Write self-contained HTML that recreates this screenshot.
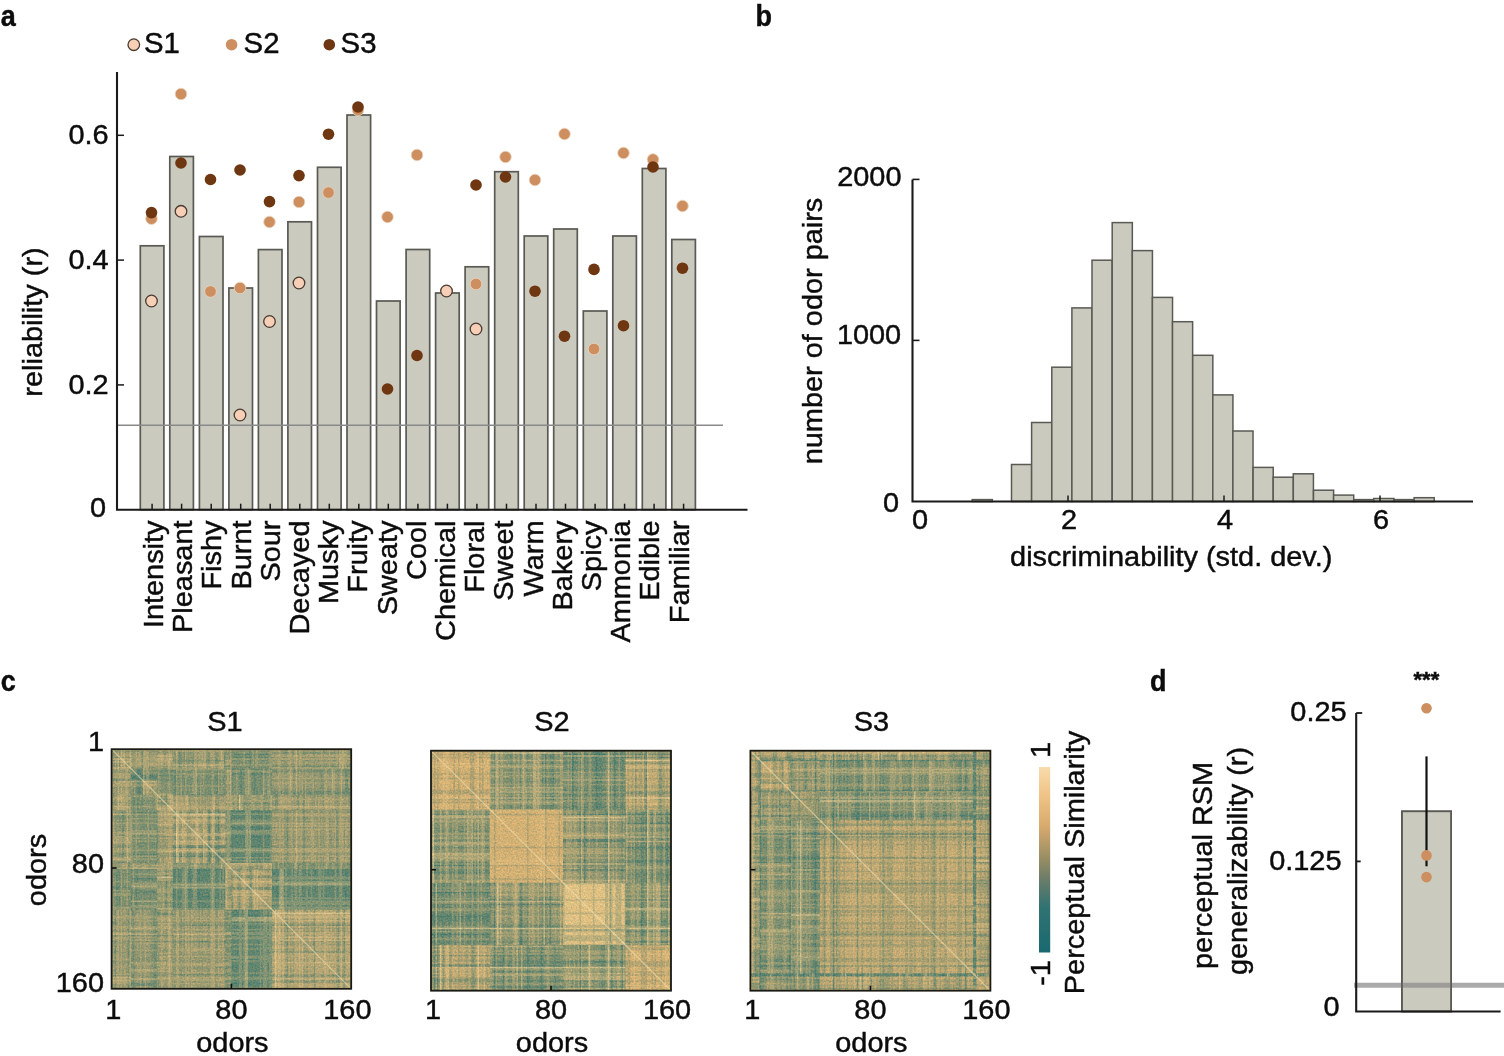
<!DOCTYPE html>
<html><head><meta charset="utf-8"><title>Figure</title>
<style>html,body{margin:0;padding:0;background:#fff;overflow:hidden}svg{display:block}text{font-family:"Liberation Sans",sans-serif;fill:#0c0c0c;stroke:#0c0c0c;stroke-width:0.45px}</style>
</head><body>
<svg width="1504" height="1056" viewBox="0 0 1504 1056">
<rect width="1504" height="1056" fill="#fff"/>
<text transform="translate(0.8 25.8) scale(0.9 1)" font-size="30" font-weight="bold">a</text>
<text transform="translate(755.6 25.8) scale(0.9 1)" font-size="30" font-weight="bold">b</text>
<text transform="translate(0.8 691) scale(0.9 1)" font-size="30" font-weight="bold">c</text>
<text transform="translate(1150 691) scale(0.9 1)" font-size="30" font-weight="bold">d</text>
<rect x="140.3" y="245.8" width="23.6" height="263.9" fill="#cbcabf" stroke="#5a5a54" stroke-width="1.7"/>
<rect x="169.8" y="156.5" width="23.6" height="353.2" fill="#cbcabf" stroke="#5a5a54" stroke-width="1.7"/>
<rect x="199.4" y="236.5" width="23.6" height="273.2" fill="#cbcabf" stroke="#5a5a54" stroke-width="1.7"/>
<rect x="228.9" y="288" width="23.6" height="221.7" fill="#cbcabf" stroke="#5a5a54" stroke-width="1.7"/>
<rect x="258.4" y="249.6" width="23.6" height="260.1" fill="#cbcabf" stroke="#5a5a54" stroke-width="1.7"/>
<rect x="287.9" y="221.8" width="23.6" height="287.9" fill="#cbcabf" stroke="#5a5a54" stroke-width="1.7"/>
<rect x="317.5" y="167.3" width="23.6" height="342.4" fill="#cbcabf" stroke="#5a5a54" stroke-width="1.7"/>
<rect x="347.0" y="115" width="23.6" height="394.7" fill="#cbcabf" stroke="#5a5a54" stroke-width="1.7"/>
<rect x="376.5" y="301" width="23.6" height="208.7" fill="#cbcabf" stroke="#5a5a54" stroke-width="1.7"/>
<rect x="406.1" y="249.5" width="23.6" height="260.2" fill="#cbcabf" stroke="#5a5a54" stroke-width="1.7"/>
<rect x="435.6" y="293" width="23.6" height="216.7" fill="#cbcabf" stroke="#5a5a54" stroke-width="1.7"/>
<rect x="465.1" y="266.8" width="23.6" height="242.9" fill="#cbcabf" stroke="#5a5a54" stroke-width="1.7"/>
<rect x="494.7" y="171.7" width="23.6" height="338.0" fill="#cbcabf" stroke="#5a5a54" stroke-width="1.7"/>
<rect x="524.2" y="236" width="23.6" height="273.7" fill="#cbcabf" stroke="#5a5a54" stroke-width="1.7"/>
<rect x="553.7" y="229" width="23.6" height="280.7" fill="#cbcabf" stroke="#5a5a54" stroke-width="1.7"/>
<rect x="583.3" y="311" width="23.6" height="198.7" fill="#cbcabf" stroke="#5a5a54" stroke-width="1.7"/>
<rect x="612.8" y="236" width="23.6" height="273.7" fill="#cbcabf" stroke="#5a5a54" stroke-width="1.7"/>
<rect x="642.3" y="168.5" width="23.6" height="341.2" fill="#cbcabf" stroke="#5a5a54" stroke-width="1.7"/>
<rect x="671.8" y="239.5" width="23.6" height="270.2" fill="#cbcabf" stroke="#5a5a54" stroke-width="1.7"/>
<line x1="117" y1="425.2" x2="723" y2="425.2" stroke="#8a8a8a" stroke-width="1.6"/>
<circle cx="151.5" cy="218.7" r="5.8" fill="#cd8f5f" stroke="#ecd3bd" stroke-width="0.8"/>
<circle cx="181.0" cy="94" r="5.8" fill="#cd8f5f" stroke="#ecd3bd" stroke-width="0.8"/>
<circle cx="210.5" cy="291.5" r="5.8" fill="#cd8f5f" stroke="#ecd3bd" stroke-width="0.8"/>
<circle cx="240.0" cy="288" r="5.8" fill="#cd8f5f" stroke="#ecd3bd" stroke-width="0.8"/>
<circle cx="269.5" cy="222" r="5.8" fill="#cd8f5f" stroke="#ecd3bd" stroke-width="0.8"/>
<circle cx="299.0" cy="202" r="5.8" fill="#cd8f5f" stroke="#ecd3bd" stroke-width="0.8"/>
<circle cx="328.5" cy="192.6" r="5.8" fill="#cd8f5f" stroke="#ecd3bd" stroke-width="0.8"/>
<circle cx="358.0" cy="110" r="5.8" fill="#cd8f5f" stroke="#ecd3bd" stroke-width="0.8"/>
<circle cx="387.5" cy="217" r="5.8" fill="#cd8f5f" stroke="#ecd3bd" stroke-width="0.8"/>
<circle cx="417.0" cy="155" r="5.8" fill="#cd8f5f" stroke="#ecd3bd" stroke-width="0.8"/>
<circle cx="476.0" cy="284" r="5.8" fill="#cd8f5f" stroke="#ecd3bd" stroke-width="0.8"/>
<circle cx="505.5" cy="157" r="5.8" fill="#cd8f5f" stroke="#ecd3bd" stroke-width="0.8"/>
<circle cx="535.0" cy="180" r="5.8" fill="#cd8f5f" stroke="#ecd3bd" stroke-width="0.8"/>
<circle cx="564.5" cy="134" r="5.8" fill="#cd8f5f" stroke="#ecd3bd" stroke-width="0.8"/>
<circle cx="594.0" cy="349" r="5.8" fill="#cd8f5f" stroke="#ecd3bd" stroke-width="0.8"/>
<circle cx="623.5" cy="153" r="5.8" fill="#cd8f5f" stroke="#ecd3bd" stroke-width="0.8"/>
<circle cx="653.0" cy="159.5" r="5.8" fill="#cd8f5f" stroke="#ecd3bd" stroke-width="0.8"/>
<circle cx="682.5" cy="206" r="5.8" fill="#cd8f5f" stroke="#ecd3bd" stroke-width="0.8"/>
<circle cx="151.5" cy="212.6" r="5.8" fill="#6e3611"/>
<circle cx="181.0" cy="163" r="5.8" fill="#6e3611"/>
<circle cx="210.5" cy="179.5" r="5.8" fill="#6e3611"/>
<circle cx="240.0" cy="170" r="5.8" fill="#6e3611"/>
<circle cx="269.5" cy="201.6" r="5.8" fill="#6e3611"/>
<circle cx="299.0" cy="175.6" r="5.8" fill="#6e3611"/>
<circle cx="328.5" cy="134.2" r="5.8" fill="#6e3611"/>
<circle cx="358.0" cy="107" r="5.8" fill="#6e3611"/>
<circle cx="387.5" cy="389" r="5.8" fill="#6e3611"/>
<circle cx="417.0" cy="355.5" r="5.8" fill="#6e3611"/>
<circle cx="476.0" cy="185" r="5.8" fill="#6e3611"/>
<circle cx="505.5" cy="177" r="5.8" fill="#6e3611"/>
<circle cx="535.0" cy="291.2" r="5.8" fill="#6e3611"/>
<circle cx="564.5" cy="336.2" r="5.8" fill="#6e3611"/>
<circle cx="594.0" cy="269.4" r="5.8" fill="#6e3611"/>
<circle cx="623.5" cy="325.7" r="5.8" fill="#6e3611"/>
<circle cx="653.0" cy="167" r="5.8" fill="#6e3611"/>
<circle cx="682.5" cy="268.2" r="5.8" fill="#6e3611"/>
<circle cx="151.5" cy="301" r="5.8" fill="#f6cfb6" stroke="#4a3a30" stroke-width="1.3"/>
<circle cx="181.0" cy="211.3" r="5.8" fill="#f6cfb6" stroke="#4a3a30" stroke-width="1.3"/>
<circle cx="240.0" cy="415" r="5.8" fill="#f6cfb6" stroke="#4a3a30" stroke-width="1.3"/>
<circle cx="269.5" cy="321.5" r="5.8" fill="#f6cfb6" stroke="#4a3a30" stroke-width="1.3"/>
<circle cx="299.0" cy="283" r="5.8" fill="#f6cfb6" stroke="#4a3a30" stroke-width="1.3"/>
<circle cx="446.5" cy="291" r="5.8" fill="#f6cfb6" stroke="#4a3a30" stroke-width="1.3"/>
<circle cx="476.0" cy="329" r="5.8" fill="#f6cfb6" stroke="#4a3a30" stroke-width="1.3"/>
<path d="M117 72V509.7H747.5" fill="none" stroke="#1a1a1a" stroke-width="2.1"/>
<text transform="translate(106.2 516.9) scale(1.025 1)" font-size="28.2" text-anchor="end">0</text>
<line x1="117" y1="384.9" x2="124" y2="384.9" stroke="#1a1a1a" stroke-width="1.5"/>
<text transform="translate(108.6 393.7) scale(1.025 1)" font-size="28.2" text-anchor="end">0.2</text>
<line x1="117" y1="260.1" x2="124" y2="260.1" stroke="#1a1a1a" stroke-width="1.5"/>
<text transform="translate(108.6 268.9) scale(1.025 1)" font-size="28.2" text-anchor="end">0.4</text>
<line x1="117" y1="135.3" x2="124" y2="135.3" stroke="#1a1a1a" stroke-width="1.5"/>
<text transform="translate(108.6 144.1) scale(1.025 1)" font-size="28.2" text-anchor="end">0.6</text>
<line x1="152.1" y1="509.7" x2="152.1" y2="503.7" stroke="#1a1a1a" stroke-width="1.5"/>
<text transform="translate(162.9 520.5) rotate(-90) scale(1.025 1)" font-size="28.2" text-anchor="end">Intensity</text>
<line x1="181.6" y1="509.7" x2="181.6" y2="503.7" stroke="#1a1a1a" stroke-width="1.5"/>
<text transform="translate(192.1 520.5) rotate(-90) scale(1.025 1)" font-size="28.2" text-anchor="end">Pleasant</text>
<line x1="211.2" y1="509.7" x2="211.2" y2="503.7" stroke="#1a1a1a" stroke-width="1.5"/>
<text transform="translate(221.3 520.5) rotate(-90) scale(1.025 1)" font-size="28.2" text-anchor="end">Fishy</text>
<line x1="240.7" y1="509.7" x2="240.7" y2="503.7" stroke="#1a1a1a" stroke-width="1.5"/>
<text transform="translate(250.5 520.5) rotate(-90) scale(1.025 1)" font-size="28.2" text-anchor="end">Burnt</text>
<line x1="270.2" y1="509.7" x2="270.2" y2="503.7" stroke="#1a1a1a" stroke-width="1.5"/>
<text transform="translate(279.7 520.5) rotate(-90) scale(1.025 1)" font-size="28.2" text-anchor="end">Sour</text>
<line x1="299.8" y1="509.7" x2="299.8" y2="503.7" stroke="#1a1a1a" stroke-width="1.5"/>
<text transform="translate(308.9 520.5) rotate(-90) scale(1.025 1)" font-size="28.2" text-anchor="end">Decayed</text>
<line x1="329.3" y1="509.7" x2="329.3" y2="503.7" stroke="#1a1a1a" stroke-width="1.5"/>
<text transform="translate(338.1 520.5) rotate(-90) scale(1.025 1)" font-size="28.2" text-anchor="end">Musky</text>
<line x1="358.8" y1="509.7" x2="358.8" y2="503.7" stroke="#1a1a1a" stroke-width="1.5"/>
<text transform="translate(367.3 520.5) rotate(-90) scale(1.025 1)" font-size="28.2" text-anchor="end">Fruity</text>
<line x1="388.3" y1="509.7" x2="388.3" y2="503.7" stroke="#1a1a1a" stroke-width="1.5"/>
<text transform="translate(396.5 520.5) rotate(-90) scale(1.025 1)" font-size="28.2" text-anchor="end">Sweaty</text>
<line x1="417.9" y1="509.7" x2="417.9" y2="503.7" stroke="#1a1a1a" stroke-width="1.5"/>
<text transform="translate(425.7 520.5) rotate(-90) scale(1.025 1)" font-size="28.2" text-anchor="end">Cool</text>
<line x1="447.4" y1="509.7" x2="447.4" y2="503.7" stroke="#1a1a1a" stroke-width="1.5"/>
<text transform="translate(454.9 520.5) rotate(-90) scale(1.025 1)" font-size="28.2" text-anchor="end">Chemical</text>
<line x1="476.9" y1="509.7" x2="476.9" y2="503.7" stroke="#1a1a1a" stroke-width="1.5"/>
<text transform="translate(484.1 520.5) rotate(-90) scale(1.025 1)" font-size="28.2" text-anchor="end">Floral</text>
<line x1="506.5" y1="509.7" x2="506.5" y2="503.7" stroke="#1a1a1a" stroke-width="1.5"/>
<text transform="translate(513.3 520.5) rotate(-90) scale(1.025 1)" font-size="28.2" text-anchor="end">Sweet</text>
<line x1="536.0" y1="509.7" x2="536.0" y2="503.7" stroke="#1a1a1a" stroke-width="1.5"/>
<text transform="translate(542.5 520.5) rotate(-90) scale(1.025 1)" font-size="28.2" text-anchor="end">Warm</text>
<line x1="565.5" y1="509.7" x2="565.5" y2="503.7" stroke="#1a1a1a" stroke-width="1.5"/>
<text transform="translate(571.7 520.5) rotate(-90) scale(1.025 1)" font-size="28.2" text-anchor="end">Bakery</text>
<line x1="595.1" y1="509.7" x2="595.1" y2="503.7" stroke="#1a1a1a" stroke-width="1.5"/>
<text transform="translate(600.9 520.5) rotate(-90) scale(1.025 1)" font-size="28.2" text-anchor="end">Spicy</text>
<line x1="624.6" y1="509.7" x2="624.6" y2="503.7" stroke="#1a1a1a" stroke-width="1.5"/>
<text transform="translate(630.1 520.5) rotate(-90) scale(1.025 1)" font-size="28.2" text-anchor="end">Ammonia</text>
<line x1="654.1" y1="509.7" x2="654.1" y2="503.7" stroke="#1a1a1a" stroke-width="1.5"/>
<text transform="translate(659.3 520.5) rotate(-90) scale(1.025 1)" font-size="28.2" text-anchor="end">Edible</text>
<line x1="683.6" y1="509.7" x2="683.6" y2="503.7" stroke="#1a1a1a" stroke-width="1.5"/>
<text transform="translate(688.5 520.5) rotate(-90) scale(1.025 1)" font-size="28.2" text-anchor="end">Familiar</text>
<text transform="translate(42.4 322) rotate(-90) scale(1.025 1)" font-size="28.2" text-anchor="middle">reliability (r)</text>
<circle cx="133.8" cy="44.7" r="5.8" fill="#f6cfb6" stroke="#4a3a30" stroke-width="1.3"/>
<text transform="translate(144.0 52.5) scale(1.025 1)" font-size="28.6">S1</text>
<circle cx="231.6" cy="44.7" r="5.8" fill="#cd8f5f"/>
<text transform="translate(243.6 52.5) scale(1.025 1)" font-size="28.6">S2</text>
<circle cx="329.3" cy="44.7" r="5.8" fill="#6e3611"/>
<text transform="translate(340.6 52.5) scale(1.025 1)" font-size="28.6">S3</text>
<rect x="972.2" y="499.6" width="20.13" height="1.9" fill="#cbcabf" stroke="#5a5a54" stroke-width="1.5"/>
<rect x="1011.5" y="464.5" width="20.13" height="37.0" fill="#cbcabf" stroke="#5a5a54" stroke-width="1.5"/>
<rect x="1031.6" y="422.5" width="20.13" height="79.0" fill="#cbcabf" stroke="#5a5a54" stroke-width="1.5"/>
<rect x="1051.8" y="367.2" width="20.13" height="134.3" fill="#cbcabf" stroke="#5a5a54" stroke-width="1.5"/>
<rect x="1071.9" y="307.9" width="20.13" height="193.6" fill="#cbcabf" stroke="#5a5a54" stroke-width="1.5"/>
<rect x="1092.0" y="260.2" width="20.13" height="241.3" fill="#cbcabf" stroke="#5a5a54" stroke-width="1.5"/>
<rect x="1112.2" y="222.6" width="20.13" height="278.9" fill="#cbcabf" stroke="#5a5a54" stroke-width="1.5"/>
<rect x="1132.3" y="250.6" width="20.13" height="250.9" fill="#cbcabf" stroke="#5a5a54" stroke-width="1.5"/>
<rect x="1152.4" y="297.4" width="20.13" height="204.1" fill="#cbcabf" stroke="#5a5a54" stroke-width="1.5"/>
<rect x="1172.5" y="321.7" width="20.13" height="179.8" fill="#cbcabf" stroke="#5a5a54" stroke-width="1.5"/>
<rect x="1192.7" y="355.3" width="20.13" height="146.2" fill="#cbcabf" stroke="#5a5a54" stroke-width="1.5"/>
<rect x="1212.8" y="394.9" width="20.13" height="106.6" fill="#cbcabf" stroke="#5a5a54" stroke-width="1.5"/>
<rect x="1232.9" y="431" width="20.13" height="70.5" fill="#cbcabf" stroke="#5a5a54" stroke-width="1.5"/>
<rect x="1253.1" y="467.4" width="20.13" height="34.1" fill="#cbcabf" stroke="#5a5a54" stroke-width="1.5"/>
<rect x="1273.2" y="477.2" width="20.13" height="24.3" fill="#cbcabf" stroke="#5a5a54" stroke-width="1.5"/>
<rect x="1293.3" y="473.8" width="20.13" height="27.7" fill="#cbcabf" stroke="#5a5a54" stroke-width="1.5"/>
<rect x="1313.5" y="490.2" width="20.13" height="11.3" fill="#cbcabf" stroke="#5a5a54" stroke-width="1.5"/>
<rect x="1333.6" y="495.1" width="20.13" height="6.4" fill="#cbcabf" stroke="#5a5a54" stroke-width="1.5"/>
<rect x="1353.7" y="499.6" width="20.13" height="1.9" fill="#cbcabf" stroke="#5a5a54" stroke-width="1.5"/>
<rect x="1373.8" y="498.5" width="20.13" height="3.0" fill="#cbcabf" stroke="#5a5a54" stroke-width="1.5"/>
<rect x="1394.0" y="499.6" width="20.13" height="1.9" fill="#cbcabf" stroke="#5a5a54" stroke-width="1.5"/>
<rect x="1414.1" y="497.7" width="20.13" height="3.8" fill="#cbcabf" stroke="#5a5a54" stroke-width="1.5"/>
<path d="M912.5 179.4V501.5H1473" fill="none" stroke="#1a1a1a" stroke-width="2.1"/>
<text transform="translate(899 511.5) scale(1.025 1)" font-size="28.2" text-anchor="end">0</text>
<line x1="912.5" y1="340.4" x2="919.5" y2="340.4" stroke="#1a1a1a" stroke-width="1.6"/>
<text transform="translate(901.2 343.5) scale(1.025 1)" font-size="28.2" text-anchor="end">1000</text>
<line x1="912.5" y1="179.4" x2="919.5" y2="179.4" stroke="#1a1a1a" stroke-width="1.6"/>
<text transform="translate(901.5 186) scale(1.025 1)" font-size="28.2" text-anchor="end">2000</text>
<text transform="translate(920 529.4) scale(1.025 1)" font-size="28.2" text-anchor="middle">0</text>
<line x1="1068" y1="501.5" x2="1068" y2="495.5" stroke="#1a1a1a" stroke-width="1.5"/>
<text transform="translate(1069 529.4) scale(1.025 1)" font-size="28.2" text-anchor="middle">2</text>
<line x1="1224" y1="501.5" x2="1224" y2="495.5" stroke="#1a1a1a" stroke-width="1.5"/>
<text transform="translate(1225 529.4) scale(1.025 1)" font-size="28.2" text-anchor="middle">4</text>
<line x1="1380" y1="501.5" x2="1380" y2="495.5" stroke="#1a1a1a" stroke-width="1.5"/>
<text transform="translate(1381 529.4) scale(1.025 1)" font-size="28.2" text-anchor="middle">6</text>
<text transform="translate(1171.2 566.4) scale(1.025 1)" font-size="28.2" text-anchor="middle">discriminability (std. dev.)</text>
<text transform="translate(822.4 331) rotate(-90) scale(1.025 1)" font-size="28.2" text-anchor="middle">number of odor pairs</text>
<g transform="translate(111.6 749.2)">
<clipPath id="hc1"><rect x="0" y="0" width="239.6" height="239.6"/></clipPath>
<defs><filter id="hn1" x="0" y="0" width="100%" height="100%" color-interpolation-filters="sRGB"><feTurbulence type="fractalNoise" baseFrequency="0.62" numOctaves="2" seed="14" result="n"/><feColorMatrix in="n" type="matrix" values="0.42 0 0 0 0.290 0.16 0 0 0 0.420 0.0 0 0 0 0.500 0 0 0 0 1" result="n2"/><feComposite in="SourceGraphic" in2="n2" operator="arithmetic" k1="0" k2="1" k3="1" k4="-0.5" result="c"/><feGaussianBlur in="c" stdDeviation="0.38"/></filter></defs>
<g clip-path="url(#hc1)"><g filter="url(#hn1)">
<rect x="-2" y="-2" width="243.6" height="243.6" fill="#909872"/>
<rect x="0.0" y="0.0" width="19.5" height="19.5" fill="#ada273"/>
<rect x="19.2" y="0.0" width="26.7" height="19.5" fill="#a09d73"/>
<rect x="45.5" y="0.0" width="15.9" height="19.5" fill="#a09d73"/>
<rect x="61.1" y="0.0" width="53.0" height="19.5" fill="#979a73"/>
<rect x="113.8" y="0.0" width="6.3" height="19.5" fill="#a09d73"/>
<rect x="119.8" y="0.0" width="41.0" height="19.5" fill="#849372"/>
<rect x="160.5" y="0.0" width="79.4" height="19.5" fill="#a09d73"/>
<rect x="0.0" y="19.2" width="19.5" height="26.7" fill="#a09d73"/>
<rect x="19.2" y="19.2" width="26.7" height="26.7" fill="#a8a073"/>
<rect x="45.5" y="19.2" width="15.9" height="26.7" fill="#8a9572"/>
<rect x="61.1" y="19.2" width="53.0" height="26.7" fill="#819272"/>
<rect x="113.8" y="19.2" width="6.3" height="26.7" fill="#939873"/>
<rect x="119.8" y="19.2" width="41.0" height="26.7" fill="#7c9072"/>
<rect x="160.5" y="19.2" width="79.4" height="26.7" fill="#969973"/>
<rect x="0.0" y="45.5" width="19.5" height="15.9" fill="#a09d73"/>
<rect x="19.2" y="45.5" width="26.7" height="15.9" fill="#8a9572"/>
<rect x="45.5" y="45.5" width="15.9" height="15.9" fill="#ada273"/>
<rect x="61.1" y="45.5" width="53.0" height="15.9" fill="#a8a073"/>
<rect x="113.8" y="45.5" width="6.3" height="15.9" fill="#a09d73"/>
<rect x="119.8" y="45.5" width="41.0" height="15.9" fill="#909872"/>
<rect x="160.5" y="45.5" width="79.4" height="15.9" fill="#a09d73"/>
<rect x="0.0" y="61.1" width="19.5" height="53.0" fill="#979a73"/>
<rect x="19.2" y="61.1" width="26.7" height="53.0" fill="#819272"/>
<rect x="45.5" y="61.1" width="15.9" height="53.0" fill="#a8a073"/>
<rect x="61.1" y="61.1" width="53.0" height="53.0" fill="#a8a073"/>
<rect x="113.8" y="61.1" width="6.3" height="53.0" fill="#778e72"/>
<rect x="119.8" y="61.1" width="41.0" height="53.0" fill="#5f8672"/>
<rect x="160.5" y="61.1" width="79.4" height="53.0" fill="#a09d73"/>
<rect x="0.0" y="113.8" width="19.5" height="6.3" fill="#a09d73"/>
<rect x="19.2" y="113.8" width="26.7" height="6.3" fill="#939873"/>
<rect x="45.5" y="113.8" width="15.9" height="6.3" fill="#a09d73"/>
<rect x="61.1" y="113.8" width="53.0" height="6.3" fill="#778e72"/>
<rect x="113.8" y="113.8" width="6.3" height="6.3" fill="#ada273"/>
<rect x="119.8" y="113.8" width="41.0" height="6.3" fill="#a09d73"/>
<rect x="160.5" y="113.8" width="79.4" height="6.3" fill="#819272"/>
<rect x="0.0" y="119.8" width="19.5" height="41.0" fill="#849372"/>
<rect x="19.2" y="119.8" width="26.7" height="41.0" fill="#7c9072"/>
<rect x="45.5" y="119.8" width="15.9" height="41.0" fill="#909872"/>
<rect x="61.1" y="119.8" width="53.0" height="41.0" fill="#5f8672"/>
<rect x="113.8" y="119.8" width="6.3" height="41.0" fill="#a09d73"/>
<rect x="119.8" y="119.8" width="41.0" height="41.0" fill="#a8a073"/>
<rect x="160.5" y="119.8" width="79.4" height="41.0" fill="#5f8672"/>
<rect x="0.0" y="160.5" width="19.5" height="79.4" fill="#a09d73"/>
<rect x="19.2" y="160.5" width="26.7" height="79.4" fill="#969973"/>
<rect x="45.5" y="160.5" width="15.9" height="79.4" fill="#a09d73"/>
<rect x="61.1" y="160.5" width="53.0" height="79.4" fill="#a09d73"/>
<rect x="113.8" y="160.5" width="6.3" height="79.4" fill="#819272"/>
<rect x="119.8" y="160.5" width="41.0" height="79.4" fill="#5f8672"/>
<rect x="160.5" y="160.5" width="79.4" height="79.4" fill="#a8a073"/>
<path d="M19.2 26.21H45.5M19.2 27.70H45.5M19.2 29.20H45.5M61.1 98.09H113.8M61.1 107.07H113.8M26.21 19.2V45.5M27.70 19.2V45.5M29.20 19.2V45.5M98.09 61.1V113.8M107.07 61.1V113.8" stroke="#347270" stroke-opacity="0.62" stroke-width="1.50" fill="none"/>
<path d="M0.0 2.25H19.2M160.5 3.74H239.6M119.8 5.24H160.5M0.0 8.24H19.2M119.8 8.24H160.5M61.1 11.23H113.8M113.8 17.22H119.8M160.5 17.22H239.6M119.8 20.22H160.5M19.2 21.71H45.5M45.5 21.71H61.1M160.5 21.71H239.6M19.2 24.71H45.5M119.8 24.71H160.5M45.5 26.21H61.1M0.0 30.70H19.2M19.2 30.70H45.5M45.5 30.70H61.1M160.5 42.68H239.6M160.5 44.18H239.6M61.1 45.67H113.8M45.5 50.17H61.1M45.5 54.66H61.1M119.8 54.66H160.5M119.8 62.15H160.5M19.2 63.64H45.5M61.1 63.64H113.8M0.0 68.14H19.2M119.8 78.62H160.5M119.8 87.60H160.5M61.1 96.59H113.8M61.1 104.08H113.8M19.2 105.57H45.5M61.1 105.57H113.8M0.0 113.06H19.2M61.1 120.55H113.8M119.8 120.55H160.5M119.8 128.04H160.5M19.2 129.53H45.5M0.0 138.52H19.2M113.8 138.52H119.8M119.8 138.52H160.5M119.8 140.02H160.5M19.2 143.01H45.5M61.1 147.50H113.8M119.8 160.98H160.5M45.5 163.98H61.1M45.5 165.47H61.1M119.8 165.47H160.5M61.1 175.96H113.8M160.5 175.96H239.6M45.5 186.44H61.1M45.5 192.43H61.1M61.1 192.43H113.8M160.5 202.91H239.6M61.1 225.37H113.8M160.5 226.87H239.6M160.5 232.86H239.6M19.2 234.36H45.5M119.8 234.36H160.5M19.2 235.86H45.5M2.25 0.0V19.2M3.74 160.5V239.6M5.24 119.8V160.5M8.24 0.0V19.2M8.24 119.8V160.5M11.23 61.1V113.8M17.22 113.8V119.8M17.22 160.5V239.6M20.22 119.8V160.5M21.71 19.2V45.5M21.71 45.5V61.1M21.71 160.5V239.6M24.71 19.2V45.5M24.71 119.8V160.5M26.21 45.5V61.1M30.70 0.0V19.2M30.70 19.2V45.5M30.70 45.5V61.1M42.68 160.5V239.6M44.18 160.5V239.6M45.67 61.1V113.8M50.17 45.5V61.1M54.66 45.5V61.1M54.66 119.8V160.5M62.15 119.8V160.5M63.64 19.2V45.5M63.64 61.1V113.8M68.14 0.0V19.2M78.62 119.8V160.5M87.60 119.8V160.5M96.59 61.1V113.8M104.08 61.1V113.8M105.57 19.2V45.5M105.57 61.1V113.8M113.06 0.0V19.2M120.55 61.1V113.8M120.55 119.8V160.5M128.04 119.8V160.5M129.53 19.2V45.5M138.52 0.0V19.2M138.52 113.8V119.8M138.52 119.8V160.5M140.02 119.8V160.5M143.01 19.2V45.5M147.50 61.1V113.8M160.98 119.8V160.5M163.98 45.5V61.1M165.47 45.5V61.1M165.47 119.8V160.5M175.96 61.1V113.8M175.96 160.5V239.6M186.44 45.5V61.1M192.43 45.5V61.1M192.43 61.1V113.8M202.91 160.5V239.6M225.37 61.1V113.8M226.87 160.5V239.6M232.86 160.5V239.6M234.36 19.2V45.5M234.36 119.8V160.5M235.86 19.2V45.5" stroke="#427a70" stroke-opacity="0.46" stroke-width="1.50" fill="none"/>
<path d="M19.2 2.25H45.5M45.5 2.25H61.1M45.5 3.74H61.1M61.1 3.74H113.8M113.8 3.74H119.8M0.0 5.24H19.2M19.2 5.24H45.5M113.8 5.24H119.8M119.8 6.74H160.5M61.1 8.24H113.8M113.8 8.24H119.8M160.5 8.24H239.6M119.8 11.23H160.5M160.5 11.23H239.6M61.1 12.73H113.8M0.0 14.23H19.2M119.8 14.23H160.5M160.5 15.72H239.6M0.0 17.22H19.2M45.5 17.22H61.1M119.8 17.22H160.5M19.2 18.72H45.5M119.8 18.72H160.5M19.2 20.22H45.5M113.8 20.22H119.8M160.5 20.22H239.6M0.0 21.71H19.2M61.1 21.71H113.8M0.0 23.21H19.2M19.2 23.21H45.5M45.5 23.21H61.1M61.1 23.21H113.8M160.5 23.21H239.6M119.8 26.21H160.5M45.5 27.70H61.1M61.1 29.20H113.8M61.1 30.70H113.8M160.5 30.70H239.6M61.1 32.20H113.8M61.1 35.19H113.8M0.0 38.19H19.2M61.1 38.19H113.8M113.8 38.19H119.8M119.8 38.19H160.5M160.5 39.68H239.6M19.2 41.18H45.5M45.5 41.18H61.1M160.5 41.18H239.6M45.5 42.68H61.1M61.1 42.68H113.8M19.2 44.18H45.5M160.5 45.67H239.6M61.1 47.17H113.8M160.5 47.17H239.6M19.2 51.66H45.5M61.1 51.66H113.8M0.0 53.16H19.2M45.5 53.16H61.1M19.2 54.66H45.5M113.8 54.66H119.8M160.5 54.66H239.6M19.2 60.65H45.5M160.5 60.65H239.6M61.1 62.15H113.8M160.5 62.15H239.6M0.0 63.64H19.2M119.8 63.64H160.5M160.5 63.64H239.6M0.0 66.64H19.2M119.8 66.64H160.5M61.1 68.14H113.8M119.8 68.14H160.5M160.5 68.14H239.6M0.0 69.63H19.2M119.8 69.63H160.5M160.5 69.63H239.6M19.2 71.13H45.5M0.0 72.63H19.2M160.5 72.63H239.6M61.1 75.62H113.8M0.0 77.12H19.2M61.1 77.12H113.8M119.8 77.12H160.5M45.5 78.62H61.1M61.1 78.62H113.8M113.8 78.62H119.8M160.5 78.62H239.6M0.0 81.61H19.2M19.2 87.60H45.5M45.5 87.60H61.1M160.5 87.60H239.6M119.8 89.10H160.5M45.5 90.60H61.1M61.1 90.60H113.8M113.8 90.60H119.8M119.8 90.60H160.5M160.5 90.60H239.6M19.2 93.59H45.5M45.5 93.59H61.1M19.2 95.09H45.5M113.8 95.09H119.8M119.8 95.09H160.5M0.0 96.59H19.2M19.2 96.59H45.5M45.5 96.59H61.1M113.8 96.59H119.8M119.8 96.59H160.5M160.5 96.59H239.6M0.0 98.09H19.2M19.2 98.09H45.5M45.5 98.09H61.1M113.8 98.09H119.8M119.8 98.09H160.5M160.5 98.09H239.6M0.0 104.08H19.2M19.2 104.08H45.5M45.5 104.08H61.1M113.8 104.08H119.8M119.8 104.08H160.5M160.5 104.08H239.6M0.0 105.57H19.2M45.5 105.57H61.1M119.8 105.57H160.5M160.5 105.57H239.6M45.5 107.07H61.1M113.8 107.07H119.8M61.1 108.57H113.8M19.2 113.06H45.5M119.8 113.06H160.5M160.5 113.06H239.6M0.0 114.56H19.2M19.2 114.56H45.5M160.5 114.56H239.6M160.5 116.06H239.6M0.0 117.55H19.2M19.2 120.55H45.5M160.5 120.55H239.6M0.0 125.04H19.2M0.0 126.54H19.2M45.5 126.54H61.1M61.1 126.54H113.8M119.8 126.54H160.5M113.8 129.53H119.8M19.2 131.03H45.5M45.5 132.53H61.1M160.5 138.52H239.6M113.8 140.02H119.8M160.5 140.02H239.6M19.2 141.51H45.5M113.8 141.51H119.8M160.5 141.51H239.6M0.0 143.01H19.2M61.1 143.01H113.8M160.5 143.01H239.6M19.2 144.51H45.5M113.8 144.51H119.8M113.8 146.01H119.8M19.2 149.00H45.5M61.1 149.00H113.8M113.8 149.00H119.8M19.2 150.50H45.5M61.1 150.50H113.8M113.8 150.50H119.8M45.5 153.49H61.1M61.1 153.49H113.8M0.0 156.49H19.2M61.1 156.49H113.8M119.8 156.49H160.5M61.1 157.99H113.8M45.5 160.98H61.1M113.8 160.98H119.8M119.8 162.48H160.5M119.8 163.98H160.5M0.0 172.96H19.2M61.1 172.96H113.8M119.8 172.96H160.5M0.0 174.46H19.2M61.1 174.46H113.8M160.5 174.46H239.6M113.8 175.96H119.8M119.8 177.45H160.5M113.8 178.95H119.8M160.5 178.95H239.6M0.0 181.95H19.2M19.2 181.95H45.5M61.1 181.95H113.8M113.8 181.95H119.8M160.5 181.95H239.6M0.0 186.44H19.2M19.2 186.44H45.5M113.8 186.44H119.8M113.8 190.93H119.8M0.0 192.43H19.2M19.2 192.43H45.5M160.5 192.43H239.6M119.8 193.93H160.5M160.5 195.42H239.6M113.8 198.42H119.8M45.5 201.41H61.1M0.0 202.91H19.2M19.2 202.91H45.5M45.5 202.91H61.1M113.8 202.91H119.8M119.8 202.91H160.5M45.5 205.91H61.1M61.1 205.91H113.8M19.2 208.90H45.5M61.1 208.90H113.8M19.2 210.40H45.5M0.0 211.90H19.2M19.2 211.90H45.5M45.5 211.90H61.1M61.1 211.90H113.8M119.8 214.89H160.5M61.1 217.89H113.8M113.8 217.89H119.8M61.1 219.38H113.8M119.8 219.38H160.5M119.8 222.38H160.5M45.5 223.88H61.1M45.5 225.37H61.1M160.5 225.37H239.6M0.0 226.87H19.2M19.2 226.87H45.5M45.5 226.87H61.1M61.1 226.87H113.8M113.8 226.87H119.8M119.8 226.87H160.5M160.5 231.36H239.6M61.1 232.86H113.8M45.5 237.35H61.1M0.0 238.85H19.2M19.2 238.85H45.5M45.5 238.85H61.1M61.1 238.85H113.8M2.25 19.2V45.5M2.25 45.5V61.1M3.74 45.5V61.1M3.74 61.1V113.8M3.74 113.8V119.8M5.24 0.0V19.2M5.24 19.2V45.5M5.24 113.8V119.8M6.74 119.8V160.5M8.24 61.1V113.8M8.24 113.8V119.8M8.24 160.5V239.6M11.23 119.8V160.5M11.23 160.5V239.6M12.73 61.1V113.8M14.23 0.0V19.2M14.23 119.8V160.5M15.72 160.5V239.6M17.22 0.0V19.2M17.22 45.5V61.1M17.22 119.8V160.5M18.72 19.2V45.5M18.72 119.8V160.5M20.22 19.2V45.5M20.22 113.8V119.8M20.22 160.5V239.6M21.71 0.0V19.2M21.71 61.1V113.8M23.21 0.0V19.2M23.21 19.2V45.5M23.21 45.5V61.1M23.21 61.1V113.8M23.21 160.5V239.6M26.21 119.8V160.5M27.70 45.5V61.1M29.20 61.1V113.8M30.70 61.1V113.8M30.70 160.5V239.6M32.20 61.1V113.8M35.19 61.1V113.8M38.19 0.0V19.2M38.19 61.1V113.8M38.19 113.8V119.8M38.19 119.8V160.5M39.68 160.5V239.6M41.18 19.2V45.5M41.18 45.5V61.1M41.18 160.5V239.6M42.68 45.5V61.1M42.68 61.1V113.8M44.18 19.2V45.5M45.67 160.5V239.6M47.17 61.1V113.8M47.17 160.5V239.6M51.66 19.2V45.5M51.66 61.1V113.8M53.16 0.0V19.2M53.16 45.5V61.1M54.66 19.2V45.5M54.66 113.8V119.8M54.66 160.5V239.6M60.65 19.2V45.5M60.65 160.5V239.6M62.15 61.1V113.8M62.15 160.5V239.6M63.64 0.0V19.2M63.64 119.8V160.5M63.64 160.5V239.6M66.64 0.0V19.2M66.64 119.8V160.5M68.14 61.1V113.8M68.14 119.8V160.5M68.14 160.5V239.6M69.63 0.0V19.2M69.63 119.8V160.5M69.63 160.5V239.6M71.13 19.2V45.5M72.63 0.0V19.2M72.63 160.5V239.6M75.62 61.1V113.8M77.12 0.0V19.2M77.12 61.1V113.8M77.12 119.8V160.5M78.62 45.5V61.1M78.62 61.1V113.8M78.62 113.8V119.8M78.62 160.5V239.6M81.61 0.0V19.2M87.60 19.2V45.5M87.60 45.5V61.1M87.60 160.5V239.6M89.10 119.8V160.5M90.60 45.5V61.1M90.60 61.1V113.8M90.60 113.8V119.8M90.60 119.8V160.5M90.60 160.5V239.6M93.59 19.2V45.5M93.59 45.5V61.1M95.09 19.2V45.5M95.09 113.8V119.8M95.09 119.8V160.5M96.59 0.0V19.2M96.59 19.2V45.5M96.59 45.5V61.1M96.59 113.8V119.8M96.59 119.8V160.5M96.59 160.5V239.6M98.09 0.0V19.2M98.09 19.2V45.5M98.09 45.5V61.1M98.09 113.8V119.8M98.09 119.8V160.5M98.09 160.5V239.6M104.08 0.0V19.2M104.08 19.2V45.5M104.08 45.5V61.1M104.08 113.8V119.8M104.08 119.8V160.5M104.08 160.5V239.6M105.57 0.0V19.2M105.57 45.5V61.1M105.57 119.8V160.5M105.57 160.5V239.6M107.07 45.5V61.1M107.07 113.8V119.8M108.57 61.1V113.8M113.06 19.2V45.5M113.06 119.8V160.5M113.06 160.5V239.6M114.56 0.0V19.2M114.56 19.2V45.5M114.56 160.5V239.6M116.06 160.5V239.6M117.55 0.0V19.2M120.55 19.2V45.5M120.55 160.5V239.6M125.04 0.0V19.2M126.54 0.0V19.2M126.54 45.5V61.1M126.54 61.1V113.8M126.54 119.8V160.5M129.53 113.8V119.8M131.03 19.2V45.5M132.53 45.5V61.1M138.52 160.5V239.6M140.02 113.8V119.8M140.02 160.5V239.6M141.51 19.2V45.5M141.51 113.8V119.8M141.51 160.5V239.6M143.01 0.0V19.2M143.01 61.1V113.8M143.01 160.5V239.6M144.51 19.2V45.5M144.51 113.8V119.8M146.01 113.8V119.8M149.00 19.2V45.5M149.00 61.1V113.8M149.00 113.8V119.8M150.50 19.2V45.5M150.50 61.1V113.8M150.50 113.8V119.8M153.49 45.5V61.1M153.49 61.1V113.8M156.49 0.0V19.2M156.49 61.1V113.8M156.49 119.8V160.5M157.99 61.1V113.8M160.98 45.5V61.1M160.98 113.8V119.8M162.48 119.8V160.5M163.98 119.8V160.5M172.96 0.0V19.2M172.96 61.1V113.8M172.96 119.8V160.5M174.46 0.0V19.2M174.46 61.1V113.8M174.46 160.5V239.6M175.96 113.8V119.8M177.45 119.8V160.5M178.95 113.8V119.8M178.95 160.5V239.6M181.95 0.0V19.2M181.95 19.2V45.5M181.95 61.1V113.8M181.95 113.8V119.8M181.95 160.5V239.6M186.44 0.0V19.2M186.44 19.2V45.5M186.44 113.8V119.8M190.93 113.8V119.8M192.43 0.0V19.2M192.43 19.2V45.5M192.43 160.5V239.6M193.93 119.8V160.5M195.42 160.5V239.6M198.42 113.8V119.8M201.41 45.5V61.1M202.91 0.0V19.2M202.91 19.2V45.5M202.91 45.5V61.1M202.91 113.8V119.8M202.91 119.8V160.5M205.91 45.5V61.1M205.91 61.1V113.8M208.90 19.2V45.5M208.90 61.1V113.8M210.40 19.2V45.5M211.90 0.0V19.2M211.90 19.2V45.5M211.90 45.5V61.1M211.90 61.1V113.8M214.89 119.8V160.5M217.89 61.1V113.8M217.89 113.8V119.8M219.38 61.1V113.8M219.38 119.8V160.5M222.38 119.8V160.5M223.88 45.5V61.1M225.37 45.5V61.1M225.37 160.5V239.6M226.87 0.0V19.2M226.87 19.2V45.5M226.87 45.5V61.1M226.87 61.1V113.8M226.87 113.8V119.8M226.87 119.8V160.5M231.36 160.5V239.6M232.86 61.1V113.8M237.35 45.5V61.1M238.85 0.0V19.2M238.85 19.2V45.5M238.85 45.5V61.1M238.85 61.1V113.8" stroke="#64826a" stroke-opacity="0.32" stroke-width="1.50" fill="none"/>
<path d="M0.0 0.75H19.2M19.2 0.75H45.5M45.5 0.75H61.1M113.8 0.75H119.8M119.8 0.75H160.5M61.1 2.25H113.8M0.0 6.74H19.2M19.2 6.74H45.5M160.5 6.74H239.6M19.2 9.73H45.5M119.8 9.73H160.5M160.5 9.73H239.6M45.5 11.23H61.1M113.8 11.23H119.8M45.5 12.73H61.1M113.8 12.73H119.8M19.2 14.23H45.5M113.8 14.23H119.8M19.2 15.72H45.5M45.5 15.72H61.1M113.8 15.72H119.8M119.8 15.72H160.5M61.1 18.72H113.8M160.5 18.72H239.6M61.1 20.22H113.8M119.8 21.71H160.5M0.0 24.71H19.2M61.1 24.71H113.8M113.8 24.71H119.8M0.0 27.70H19.2M160.5 29.20H239.6M0.0 32.20H19.2M113.8 32.20H119.8M0.0 33.69H19.2M113.8 33.69H119.8M160.5 33.69H239.6M0.0 35.19H19.2M19.2 35.19H45.5M0.0 36.69H19.2M19.2 36.69H45.5M61.1 36.69H113.8M45.5 44.18H61.1M45.5 45.67H61.1M19.2 47.17H45.5M0.0 48.67H19.2M0.0 50.17H19.2M160.5 50.17H239.6M119.8 51.66H160.5M113.8 53.16H119.8M19.2 57.65H45.5M45.5 57.65H61.1M61.1 57.65H113.8M113.8 57.65H119.8M119.8 57.65H160.5M0.0 59.15H19.2M61.1 59.15H113.8M113.8 59.15H119.8M160.5 59.15H239.6M113.8 60.65H119.8M19.2 65.14H45.5M119.8 65.14H160.5M160.5 65.14H239.6M45.5 66.64H61.1M160.5 66.64H239.6M113.8 68.14H119.8M19.2 69.63H45.5M45.5 69.63H61.1M45.5 71.13H61.1M119.8 71.13H160.5M61.1 72.63H113.8M119.8 72.63H160.5M0.0 74.13H19.2M19.2 74.13H45.5M45.5 74.13H61.1M61.1 74.13H113.8M113.8 74.13H119.8M160.5 74.13H239.6M113.8 75.62H119.8M119.8 75.62H160.5M160.5 77.12H239.6M113.8 80.12H119.8M160.5 80.12H239.6M19.2 81.61H45.5M113.8 81.61H119.8M119.8 81.61H160.5M0.0 83.11H19.2M19.2 83.11H45.5M119.8 83.11H160.5M0.0 84.61H19.2M45.5 84.61H61.1M119.8 84.61H160.5M113.8 86.11H119.8M0.0 87.60H19.2M113.8 87.60H119.8M0.0 89.10H19.2M19.2 89.10H45.5M0.0 90.60H19.2M0.0 92.10H19.2M19.2 92.10H45.5M113.8 92.10H119.8M61.1 93.59H113.8M113.8 93.59H119.8M61.1 95.09H113.8M0.0 99.58H19.2M113.8 99.58H119.8M119.8 99.58H160.5M160.5 99.58H239.6M0.0 101.08H19.2M19.2 101.08H45.5M45.5 101.08H61.1M113.8 101.08H119.8M160.5 101.08H239.6M0.0 102.58H19.2M61.1 102.58H113.8M113.8 102.58H119.8M119.8 102.58H160.5M160.5 102.58H239.6M19.2 107.07H45.5M160.5 107.07H239.6M0.0 108.57H19.2M113.8 108.57H119.8M119.8 108.57H160.5M19.2 110.07H45.5M0.0 111.56H19.2M113.8 111.56H119.8M119.8 111.56H160.5M160.5 111.56H239.6M113.8 114.56H119.8M19.2 116.06H45.5M45.5 116.06H61.1M61.1 116.06H113.8M119.8 116.06H160.5M61.1 117.55H113.8M0.0 119.05H19.2M45.5 119.05H61.1M113.8 119.05H119.8M45.5 120.55H61.1M113.8 122.05H119.8M45.5 123.54H61.1M119.8 123.54H160.5M19.2 125.04H45.5M45.5 125.04H61.1M119.8 125.04H160.5M160.5 128.04H239.6M45.5 129.53H61.1M160.5 129.53H239.6M45.5 131.03H61.1M113.8 131.03H119.8M119.8 131.03H160.5M0.0 132.53H19.2M113.8 132.53H119.8M160.5 132.53H239.6M19.2 134.03H45.5M61.1 134.03H113.8M119.8 134.03H160.5M19.2 135.52H45.5M113.8 135.52H119.8M61.1 137.02H113.8M19.2 138.52H45.5M45.5 140.02H61.1M0.0 141.51H19.2M45.5 141.51H61.1M119.8 141.51H160.5M45.5 143.01H61.1M0.0 144.51H19.2M119.8 144.51H160.5M0.0 146.01H19.2M45.5 149.00H61.1M119.8 149.00H160.5M160.5 149.00H239.6M45.5 150.50H61.1M61.1 152.00H113.8M113.8 152.00H119.8M119.8 152.00H160.5M160.5 152.00H239.6M113.8 153.49H119.8M160.5 153.49H239.6M113.8 154.99H119.8M160.5 154.99H239.6M19.2 156.49H45.5M0.0 157.99H19.2M19.2 157.99H45.5M160.5 157.99H239.6M0.0 159.48H19.2M61.1 159.48H113.8M119.8 159.48H160.5M160.5 159.48H239.6M113.8 162.48H119.8M160.5 165.47H239.6M0.0 166.97H19.2M19.2 166.97H45.5M113.8 166.97H119.8M0.0 168.47H19.2M19.2 168.47H45.5M45.5 168.47H61.1M61.1 168.47H113.8M45.5 169.97H61.1M19.2 171.46H45.5M45.5 171.46H61.1M61.1 171.46H113.8M113.8 171.46H119.8M45.5 174.46H61.1M119.8 174.46H160.5M0.0 177.45H19.2M19.2 177.45H45.5M45.5 177.45H61.1M160.5 177.45H239.6M0.0 178.95H19.2M45.5 178.95H61.1M19.2 180.45H45.5M61.1 180.45H113.8M119.8 180.45H160.5M0.0 183.44H19.2M119.8 183.44H160.5M160.5 183.44H239.6M119.8 184.94H160.5M160.5 184.94H239.6M0.0 187.94H19.2M19.2 187.94H45.5M119.8 187.94H160.5M0.0 189.43H19.2M45.5 189.43H61.1M61.1 189.43H113.8M113.8 189.43H119.8M119.8 189.43H160.5M19.2 190.93H45.5M19.2 193.93H45.5M45.5 193.93H61.1M113.8 195.42H119.8M119.8 195.42H160.5M45.5 196.92H61.1M113.8 196.92H119.8M160.5 198.42H239.6M61.1 199.92H113.8M119.8 199.92H160.5M19.2 201.41H45.5M61.1 201.41H113.8M45.5 204.41H61.1M113.8 204.41H119.8M160.5 204.41H239.6M160.5 205.91H239.6M45.5 207.40H61.1M61.1 207.40H113.8M113.8 207.40H119.8M119.8 207.40H160.5M160.5 207.40H239.6M119.8 208.90H160.5M160.5 208.90H239.6M0.0 210.40H19.2M113.8 210.40H119.8M119.8 211.90H160.5M19.2 213.39H45.5M45.5 213.39H61.1M113.8 213.39H119.8M19.2 214.89H45.5M45.5 214.89H61.1M61.1 214.89H113.8M160.5 214.89H239.6M45.5 216.39H61.1M61.1 216.39H113.8M113.8 216.39H119.8M160.5 216.39H239.6M0.0 217.89H19.2M45.5 219.38H61.1M160.5 219.38H239.6M113.8 220.88H119.8M19.2 222.38H45.5M45.5 222.38H61.1M113.8 222.38H119.8M61.1 223.88H113.8M119.8 223.88H160.5M160.5 223.88H239.6M0.0 225.37H19.2M45.5 228.37H61.1M61.1 228.37H113.8M113.8 228.37H119.8M119.8 228.37H160.5M0.0 229.87H19.2M45.5 229.87H61.1M61.1 229.87H113.8M119.8 229.87H160.5M61.1 231.36H113.8M0.0 232.86H19.2M0.0 234.36H19.2M61.1 234.36H113.8M113.8 234.36H119.8M160.5 234.36H239.6M160.5 235.86H239.6M160.5 237.35H239.6M119.8 238.85H160.5M160.5 238.85H239.6M0.75 0.0V19.2M0.75 19.2V45.5M0.75 45.5V61.1M0.75 113.8V119.8M0.75 119.8V160.5M2.25 61.1V113.8M6.74 0.0V19.2M6.74 19.2V45.5M6.74 160.5V239.6M9.73 19.2V45.5M9.73 119.8V160.5M9.73 160.5V239.6M11.23 45.5V61.1M11.23 113.8V119.8M12.73 45.5V61.1M12.73 113.8V119.8M14.23 19.2V45.5M14.23 113.8V119.8M15.72 19.2V45.5M15.72 45.5V61.1M15.72 113.8V119.8M15.72 119.8V160.5M18.72 61.1V113.8M18.72 160.5V239.6M20.22 61.1V113.8M21.71 119.8V160.5M24.71 0.0V19.2M24.71 61.1V113.8M24.71 113.8V119.8M27.70 0.0V19.2M29.20 160.5V239.6M32.20 0.0V19.2M32.20 113.8V119.8M33.69 0.0V19.2M33.69 113.8V119.8M33.69 160.5V239.6M35.19 0.0V19.2M35.19 19.2V45.5M36.69 0.0V19.2M36.69 19.2V45.5M36.69 61.1V113.8M44.18 45.5V61.1M45.67 45.5V61.1M47.17 19.2V45.5M48.67 0.0V19.2M50.17 0.0V19.2M50.17 160.5V239.6M51.66 119.8V160.5M53.16 113.8V119.8M57.65 19.2V45.5M57.65 45.5V61.1M57.65 61.1V113.8M57.65 113.8V119.8M57.65 119.8V160.5M59.15 0.0V19.2M59.15 61.1V113.8M59.15 113.8V119.8M59.15 160.5V239.6M60.65 113.8V119.8M65.14 19.2V45.5M65.14 119.8V160.5M65.14 160.5V239.6M66.64 45.5V61.1M66.64 160.5V239.6M68.14 113.8V119.8M69.63 19.2V45.5M69.63 45.5V61.1M71.13 45.5V61.1M71.13 119.8V160.5M72.63 61.1V113.8M72.63 119.8V160.5M74.13 0.0V19.2M74.13 19.2V45.5M74.13 45.5V61.1M74.13 61.1V113.8M74.13 113.8V119.8M74.13 160.5V239.6M75.62 113.8V119.8M75.62 119.8V160.5M77.12 160.5V239.6M80.12 113.8V119.8M80.12 160.5V239.6M81.61 19.2V45.5M81.61 113.8V119.8M81.61 119.8V160.5M83.11 0.0V19.2M83.11 19.2V45.5M83.11 119.8V160.5M84.61 0.0V19.2M84.61 45.5V61.1M84.61 119.8V160.5M86.11 113.8V119.8M87.60 0.0V19.2M87.60 113.8V119.8M89.10 0.0V19.2M89.10 19.2V45.5M90.60 0.0V19.2M92.10 0.0V19.2M92.10 19.2V45.5M92.10 113.8V119.8M93.59 61.1V113.8M93.59 113.8V119.8M95.09 61.1V113.8M99.58 0.0V19.2M99.58 113.8V119.8M99.58 119.8V160.5M99.58 160.5V239.6M101.08 0.0V19.2M101.08 19.2V45.5M101.08 45.5V61.1M101.08 113.8V119.8M101.08 160.5V239.6M102.58 0.0V19.2M102.58 61.1V113.8M102.58 113.8V119.8M102.58 119.8V160.5M102.58 160.5V239.6M107.07 19.2V45.5M107.07 160.5V239.6M108.57 0.0V19.2M108.57 113.8V119.8M108.57 119.8V160.5M110.07 19.2V45.5M111.56 0.0V19.2M111.56 113.8V119.8M111.56 119.8V160.5M111.56 160.5V239.6M114.56 113.8V119.8M116.06 19.2V45.5M116.06 45.5V61.1M116.06 61.1V113.8M116.06 119.8V160.5M117.55 61.1V113.8M119.05 0.0V19.2M119.05 45.5V61.1M119.05 113.8V119.8M120.55 45.5V61.1M122.05 113.8V119.8M123.54 45.5V61.1M123.54 119.8V160.5M125.04 19.2V45.5M125.04 45.5V61.1M125.04 119.8V160.5M128.04 160.5V239.6M129.53 45.5V61.1M129.53 160.5V239.6M131.03 45.5V61.1M131.03 113.8V119.8M131.03 119.8V160.5M132.53 0.0V19.2M132.53 113.8V119.8M132.53 160.5V239.6M134.03 19.2V45.5M134.03 61.1V113.8M134.03 119.8V160.5M135.52 19.2V45.5M135.52 113.8V119.8M137.02 61.1V113.8M138.52 19.2V45.5M140.02 45.5V61.1M141.51 0.0V19.2M141.51 45.5V61.1M141.51 119.8V160.5M143.01 45.5V61.1M144.51 0.0V19.2M144.51 119.8V160.5M146.01 0.0V19.2M149.00 45.5V61.1M149.00 119.8V160.5M149.00 160.5V239.6M150.50 45.5V61.1M152.00 61.1V113.8M152.00 113.8V119.8M152.00 119.8V160.5M152.00 160.5V239.6M153.49 113.8V119.8M153.49 160.5V239.6M154.99 113.8V119.8M154.99 160.5V239.6M156.49 19.2V45.5M157.99 0.0V19.2M157.99 19.2V45.5M157.99 160.5V239.6M159.48 0.0V19.2M159.48 61.1V113.8M159.48 119.8V160.5M159.48 160.5V239.6M162.48 113.8V119.8M165.47 160.5V239.6M166.97 0.0V19.2M166.97 19.2V45.5M166.97 113.8V119.8M168.47 0.0V19.2M168.47 19.2V45.5M168.47 45.5V61.1M168.47 61.1V113.8M169.97 45.5V61.1M171.46 19.2V45.5M171.46 45.5V61.1M171.46 61.1V113.8M171.46 113.8V119.8M174.46 45.5V61.1M174.46 119.8V160.5M177.45 0.0V19.2M177.45 19.2V45.5M177.45 45.5V61.1M177.45 160.5V239.6M178.95 0.0V19.2M178.95 45.5V61.1M180.45 19.2V45.5M180.45 61.1V113.8M180.45 119.8V160.5M183.44 0.0V19.2M183.44 119.8V160.5M183.44 160.5V239.6M184.94 119.8V160.5M184.94 160.5V239.6M187.94 0.0V19.2M187.94 19.2V45.5M187.94 119.8V160.5M189.43 0.0V19.2M189.43 45.5V61.1M189.43 61.1V113.8M189.43 113.8V119.8M189.43 119.8V160.5M190.93 19.2V45.5M193.93 19.2V45.5M193.93 45.5V61.1M195.42 113.8V119.8M195.42 119.8V160.5M196.92 45.5V61.1M196.92 113.8V119.8M198.42 160.5V239.6M199.92 61.1V113.8M199.92 119.8V160.5M201.41 19.2V45.5M201.41 61.1V113.8M204.41 45.5V61.1M204.41 113.8V119.8M204.41 160.5V239.6M205.91 160.5V239.6M207.40 45.5V61.1M207.40 61.1V113.8M207.40 113.8V119.8M207.40 119.8V160.5M207.40 160.5V239.6M208.90 119.8V160.5M208.90 160.5V239.6M210.40 0.0V19.2M210.40 113.8V119.8M211.90 119.8V160.5M213.39 19.2V45.5M213.39 45.5V61.1M213.39 113.8V119.8M214.89 19.2V45.5M214.89 45.5V61.1M214.89 61.1V113.8M214.89 160.5V239.6M216.39 45.5V61.1M216.39 61.1V113.8M216.39 113.8V119.8M216.39 160.5V239.6M217.89 0.0V19.2M219.38 45.5V61.1M219.38 160.5V239.6M220.88 113.8V119.8M222.38 19.2V45.5M222.38 45.5V61.1M222.38 113.8V119.8M223.88 61.1V113.8M223.88 119.8V160.5M223.88 160.5V239.6M225.37 0.0V19.2M228.37 45.5V61.1M228.37 61.1V113.8M228.37 113.8V119.8M228.37 119.8V160.5M229.87 0.0V19.2M229.87 45.5V61.1M229.87 61.1V113.8M229.87 119.8V160.5M231.36 61.1V113.8M232.86 0.0V19.2M234.36 0.0V19.2M234.36 61.1V113.8M234.36 113.8V119.8M234.36 160.5V239.6M235.86 160.5V239.6M237.35 160.5V239.6M238.85 119.8V160.5M238.85 160.5V239.6" stroke="#dcb87a" stroke-opacity="0.30" stroke-width="1.50" fill="none"/>
<path d="M61.1 0.75H113.8M45.5 6.74H61.1M0.0 9.73H19.2M45.5 9.73H61.1M0.0 12.73H19.2M61.1 15.72H113.8M0.0 18.72H19.2M113.8 21.71H119.8M19.2 32.20H45.5M0.0 57.65H19.2M160.5 57.65H239.6M45.5 59.15H61.1M45.5 60.65H61.1M0.0 65.14H19.2M45.5 65.14H61.1M61.1 66.64H113.8M61.1 71.13H113.8M119.8 74.13H160.5M45.5 75.62H61.1M113.8 83.11H119.8M19.2 84.61H45.5M61.1 84.61H113.8M113.8 84.61H119.8M61.1 86.11H113.8M61.1 92.10H113.8M0.0 93.59H19.2M61.1 101.08H113.8M119.8 101.08H160.5M45.5 102.58H61.1M0.0 110.07H19.2M113.8 110.07H119.8M119.8 114.56H160.5M19.2 119.05H45.5M119.8 132.53H160.5M160.5 134.03H239.6M61.1 135.52H113.8M160.5 135.52H239.6M19.2 137.02H45.5M61.1 138.52H113.8M119.8 143.01H160.5M119.8 146.01H160.5M19.2 152.00H45.5M45.5 159.48H61.1M113.8 159.48H119.8M160.5 166.97H239.6M119.8 168.47H160.5M160.5 168.47H239.6M119.8 169.97H160.5M119.8 171.46H160.5M160.5 171.46H239.6M19.2 178.95H45.5M113.8 183.44H119.8M0.0 184.94H19.2M19.2 184.94H45.5M61.1 184.94H113.8M113.8 184.94H119.8M160.5 187.94H239.6M160.5 190.93H239.6M160.5 213.39H239.6M113.8 214.89H119.8M19.2 220.88H45.5M0.0 228.37H19.2M19.2 229.87H45.5M113.8 229.87H119.8M160.5 229.87H239.6M0.0 231.36H19.2M0.75 61.1V113.8M6.74 45.5V61.1M9.73 0.0V19.2M9.73 45.5V61.1M12.73 0.0V19.2M15.72 61.1V113.8M18.72 0.0V19.2M21.71 113.8V119.8M32.20 19.2V45.5M57.65 0.0V19.2M57.65 160.5V239.6M59.15 45.5V61.1M60.65 45.5V61.1M65.14 0.0V19.2M65.14 45.5V61.1M66.64 61.1V113.8M71.13 61.1V113.8M74.13 119.8V160.5M75.62 45.5V61.1M83.11 113.8V119.8M84.61 19.2V45.5M84.61 61.1V113.8M84.61 113.8V119.8M86.11 61.1V113.8M92.10 61.1V113.8M93.59 0.0V19.2M101.08 61.1V113.8M101.08 119.8V160.5M102.58 45.5V61.1M110.07 0.0V19.2M110.07 113.8V119.8M114.56 119.8V160.5M119.05 19.2V45.5M132.53 119.8V160.5M134.03 160.5V239.6M135.52 61.1V113.8M135.52 160.5V239.6M137.02 19.2V45.5M138.52 61.1V113.8M143.01 119.8V160.5M146.01 119.8V160.5M152.00 19.2V45.5M159.48 45.5V61.1M159.48 113.8V119.8M166.97 160.5V239.6M168.47 119.8V160.5M168.47 160.5V239.6M169.97 119.8V160.5M171.46 119.8V160.5M171.46 160.5V239.6M178.95 19.2V45.5M183.44 113.8V119.8M184.94 0.0V19.2M184.94 19.2V45.5M184.94 61.1V113.8M184.94 113.8V119.8M187.94 160.5V239.6M190.93 160.5V239.6M213.39 160.5V239.6M214.89 113.8V119.8M220.88 19.2V45.5M228.37 0.0V19.2M229.87 19.2V45.5M229.87 113.8V119.8M229.87 160.5V239.6M231.36 0.0V19.2" stroke="#e6c486" stroke-opacity="0.45" stroke-width="1.50" fill="none"/>
<path d="M61.1 65.14H113.8M45.5 128.04H61.1M160.5 163.98H239.6M65.14 61.1V113.8M128.04 45.5V61.1M163.98 160.5V239.6" stroke="#f0d296" stroke-opacity="0.60" stroke-width="1.50" fill="none"/>
</g>
<line x1="0" y1="0" x2="239.6" y2="239.6" stroke="#f2dfae" stroke-opacity="0.6" stroke-width="1.2"/>
</g>
<rect x="0" y="0" width="239.6" height="239.6" fill="none" stroke="#1a1a14" stroke-width="1.8"/>
<line x1="0" y1="118.8" x2="5" y2="118.8" stroke="#111" stroke-width="1.6"/>
<line x1="119.8" y1="239.6" x2="119.8" y2="234.6" stroke="#111" stroke-width="1.6"/>
</g>
<g transform="translate(431 750.7)">
<clipPath id="hc2"><rect x="0" y="0" width="240" height="240"/></clipPath>
<defs><filter id="hn2" x="0" y="0" width="100%" height="100%" color-interpolation-filters="sRGB"><feTurbulence type="fractalNoise" baseFrequency="0.62" numOctaves="2" seed="25" result="n"/><feColorMatrix in="n" type="matrix" values="0.42 0 0 0 0.290 0.16 0 0 0 0.420 0.0 0 0 0 0.500 0 0 0 0 1" result="n2"/><feComposite in="SourceGraphic" in2="n2" operator="arithmetic" k1="0" k2="1" k3="1" k4="-0.5" result="c"/><feGaussianBlur in="c" stdDeviation="0.38"/></filter></defs>
<g clip-path="url(#hc2)"><g filter="url(#hn2)">
<rect x="-2" y="-2" width="244" height="244" fill="#909872"/>
<rect x="0.0" y="0.0" width="59.1" height="59.1" fill="#d1af73"/>
<rect x="58.8" y="0.0" width="73.5" height="59.1" fill="#8a9572"/>
<rect x="132.0" y="0.0" width="62.7" height="59.1" fill="#7d9072"/>
<rect x="194.4" y="0.0" width="45.9" height="59.1" fill="#bea873"/>
<rect x="0.0" y="58.8" width="59.1" height="73.5" fill="#8a9572"/>
<rect x="58.8" y="58.8" width="73.5" height="73.5" fill="#d1af73"/>
<rect x="132.0" y="58.8" width="62.7" height="73.5" fill="#9d9c73"/>
<rect x="194.4" y="58.8" width="45.9" height="73.5" fill="#8a9572"/>
<rect x="0.0" y="132.0" width="59.1" height="62.7" fill="#7d9072"/>
<rect x="58.8" y="132.0" width="73.5" height="62.7" fill="#9d9c73"/>
<rect x="132.0" y="132.0" width="62.7" height="62.7" fill="#e0c284"/>
<rect x="194.4" y="132.0" width="45.9" height="62.7" fill="#909872"/>
<rect x="0.0" y="194.4" width="59.1" height="45.9" fill="#bea873"/>
<rect x="58.8" y="194.4" width="73.5" height="45.9" fill="#8a9572"/>
<rect x="132.0" y="194.4" width="62.7" height="45.9" fill="#909872"/>
<rect x="194.4" y="194.4" width="45.9" height="45.9" fill="#d1af73"/>
<path d="M132.0 3.75H194.4M194.4 3.75H240.0M194.4 6.75H240.0M132.0 63.75H194.4M194.4 63.75H240.0M194.4 72.75H240.0M132.0 89.25H194.4M132.0 90.75H194.4M194.4 96.75H240.0M194.4 110.25H240.0M0.0 114.75H58.8M132.0 119.25H194.4M0.0 122.25H58.8M0.0 141.75H58.8M194.4 149.25H240.0M58.8 153.75H132.0M0.0 165.75H58.8M194.4 180.75H240.0M0.0 183.75H58.8M194.4 191.25H240.0M132.0 210.75H194.4M0.0 215.25H58.8M58.8 215.25H132.0M58.8 236.25H132.0M3.75 132.0V194.4M3.75 194.4V240.0M6.75 194.4V240.0M63.75 132.0V194.4M63.75 194.4V240.0M72.75 194.4V240.0M89.25 132.0V194.4M90.75 132.0V194.4M96.75 194.4V240.0M110.25 194.4V240.0M114.75 0.0V58.8M119.25 132.0V194.4M122.25 0.0V58.8M141.75 0.0V58.8M149.25 194.4V240.0M153.75 58.8V132.0M165.75 0.0V58.8M180.75 194.4V240.0M183.75 0.0V58.8M191.25 194.4V240.0M210.75 132.0V194.4M215.25 0.0V58.8M215.25 58.8V132.0M236.25 58.8V132.0" stroke="#347270" stroke-opacity="0.62" stroke-width="1.50" fill="none"/>
<path d="M194.4 2.25H240.0M132.0 6.75H194.4M132.0 11.25H194.4M132.0 12.75H194.4M194.4 12.75H240.0M132.0 18.75H194.4M132.0 39.75H194.4M194.4 41.25H240.0M194.4 42.75H240.0M132.0 44.25H194.4M132.0 56.25H194.4M132.0 59.25H194.4M0.0 63.75H58.8M0.0 80.25H58.8M0.0 89.25H58.8M0.0 96.75H58.8M132.0 96.75H194.4M194.4 98.25H240.0M0.0 111.75H58.8M132.0 111.75H194.4M194.4 111.75H240.0M132.0 114.75H194.4M0.0 119.25H58.8M0.0 120.75H58.8M194.4 123.75H240.0M58.8 149.25H132.0M0.0 164.25H58.8M0.0 167.25H58.8M0.0 168.75H58.8M0.0 170.25H58.8M194.4 170.25H240.0M194.4 171.75H240.0M194.4 173.25H240.0M58.8 174.75H132.0M58.8 176.25H132.0M132.0 179.25H194.4M0.0 191.25H58.8M58.8 191.25H132.0M0.0 204.75H58.8M58.8 204.75H132.0M58.8 210.75H132.0M58.8 212.25H132.0M132.0 212.25H194.4M0.0 213.75H58.8M58.8 221.25H132.0M0.0 228.75H58.8M0.0 230.25H58.8M58.8 230.25H132.0M132.0 230.25H194.4M132.0 236.25H194.4M0.0 239.25H58.8M2.25 194.4V240.0M6.75 132.0V194.4M11.25 132.0V194.4M12.75 132.0V194.4M12.75 194.4V240.0M18.75 132.0V194.4M39.75 132.0V194.4M41.25 194.4V240.0M42.75 194.4V240.0M44.25 132.0V194.4M56.25 132.0V194.4M59.25 132.0V194.4M63.75 0.0V58.8M80.25 0.0V58.8M89.25 0.0V58.8M96.75 0.0V58.8M96.75 132.0V194.4M98.25 194.4V240.0M111.75 0.0V58.8M111.75 132.0V194.4M111.75 194.4V240.0M114.75 132.0V194.4M119.25 0.0V58.8M120.75 0.0V58.8M123.75 194.4V240.0M149.25 58.8V132.0M164.25 0.0V58.8M167.25 0.0V58.8M168.75 0.0V58.8M170.25 0.0V58.8M170.25 194.4V240.0M171.75 194.4V240.0M173.25 194.4V240.0M174.75 58.8V132.0M176.25 58.8V132.0M179.25 132.0V194.4M191.25 0.0V58.8M191.25 58.8V132.0M204.75 0.0V58.8M204.75 58.8V132.0M210.75 58.8V132.0M212.25 58.8V132.0M212.25 132.0V194.4M213.75 0.0V58.8M221.25 58.8V132.0M228.75 0.0V58.8M230.25 0.0V58.8M230.25 58.8V132.0M230.25 132.0V194.4M236.25 132.0V194.4M239.25 0.0V58.8" stroke="#427a70" stroke-opacity="0.46" stroke-width="1.50" fill="none"/>
<path d="M0.0 0.75H58.8M58.8 0.75H132.0M132.0 2.25H194.4M0.0 3.75H58.8M0.0 6.75H58.8M58.8 6.75H132.0M132.0 8.25H194.4M194.4 8.25H240.0M194.4 11.25H240.0M58.8 12.75H132.0M132.0 15.75H194.4M194.4 18.75H240.0M58.8 20.25H132.0M194.4 20.25H240.0M0.0 23.25H58.8M0.0 27.75H58.8M194.4 27.75H240.0M58.8 30.75H132.0M132.0 32.25H194.4M194.4 35.25H240.0M132.0 36.75H194.4M194.4 36.75H240.0M132.0 38.25H194.4M0.0 39.75H58.8M0.0 41.25H58.8M0.0 42.75H58.8M132.0 42.75H194.4M194.4 44.25H240.0M132.0 45.75H194.4M0.0 48.75H58.8M132.0 48.75H194.4M0.0 51.75H58.8M132.0 51.75H194.4M58.8 54.75H132.0M132.0 54.75H194.4M58.8 56.25H132.0M194.4 56.25H240.0M58.8 57.75H132.0M132.0 57.75H194.4M0.0 60.75H58.8M132.0 60.75H194.4M132.0 62.25H194.4M58.8 63.75H132.0M0.0 68.25H58.8M132.0 71.25H194.4M194.4 71.25H240.0M0.0 72.75H58.8M132.0 72.75H194.4M0.0 75.75H58.8M0.0 77.25H58.8M132.0 77.25H194.4M0.0 78.75H58.8M132.0 78.75H194.4M194.4 78.75H240.0M132.0 80.25H194.4M194.4 80.25H240.0M0.0 81.75H58.8M0.0 84.75H58.8M194.4 87.75H240.0M194.4 89.25H240.0M0.0 90.75H58.8M194.4 92.25H240.0M132.0 93.75H194.4M132.0 95.25H194.4M194.4 95.25H240.0M58.8 96.75H132.0M0.0 98.25H58.8M194.4 99.75H240.0M0.0 101.25H58.8M194.4 101.25H240.0M132.0 104.25H194.4M132.0 105.75H194.4M194.4 105.75H240.0M132.0 108.75H194.4M194.4 108.75H240.0M132.0 110.25H194.4M58.8 114.75H132.0M132.0 116.25H194.4M0.0 117.75H58.8M194.4 119.25H240.0M132.0 120.75H194.4M194.4 122.25H240.0M0.0 123.75H58.8M194.4 125.25H240.0M0.0 126.75H58.8M132.0 126.75H194.4M194.4 126.75H240.0M0.0 128.25H58.8M58.8 128.25H132.0M194.4 128.25H240.0M132.0 132.75H194.4M194.4 132.75H240.0M194.4 141.75H240.0M194.4 144.75H240.0M194.4 146.25H240.0M132.0 149.25H194.4M0.0 153.75H58.8M194.4 153.75H240.0M0.0 155.25H58.8M58.8 155.25H132.0M194.4 155.25H240.0M0.0 156.75H58.8M0.0 161.25H58.8M0.0 162.75H58.8M58.8 162.75H132.0M132.0 162.75H194.4M194.4 162.75H240.0M194.4 168.75H240.0M0.0 171.75H58.8M0.0 173.25H58.8M58.8 173.25H132.0M132.0 174.75H194.4M194.4 174.75H240.0M132.0 176.25H194.4M0.0 179.25H58.8M58.8 179.25H132.0M194.4 179.25H240.0M132.0 180.75H194.4M58.8 183.75H132.0M132.0 185.25H194.4M194.4 185.25H240.0M132.0 186.75H194.4M58.8 188.25H132.0M132.0 188.25H194.4M58.8 189.75H132.0M132.0 189.75H194.4M0.0 192.75H58.8M0.0 194.25H58.8M58.8 194.25H132.0M132.0 194.25H194.4M194.4 194.25H240.0M132.0 195.75H194.4M0.0 197.25H58.8M132.0 197.25H194.4M194.4 197.25H240.0M58.8 198.75H132.0M132.0 198.75H194.4M194.4 198.75H240.0M0.0 201.75H58.8M132.0 204.75H194.4M58.8 206.25H132.0M0.0 209.25H58.8M58.8 209.25H132.0M0.0 210.75H58.8M194.4 210.75H240.0M194.4 212.25H240.0M58.8 213.75H132.0M132.0 213.75H194.4M194.4 213.75H240.0M132.0 215.25H194.4M194.4 215.25H240.0M194.4 221.25H240.0M194.4 224.25H240.0M0.0 227.25H58.8M194.4 230.25H240.0M0.0 231.75H58.8M0.0 233.25H58.8M58.8 234.75H132.0M0.0 236.25H58.8M58.8 239.25H132.0M132.0 239.25H194.4M194.4 239.25H240.0M0.75 0.0V58.8M0.75 58.8V132.0M2.25 132.0V194.4M3.75 0.0V58.8M6.75 0.0V58.8M6.75 58.8V132.0M8.25 132.0V194.4M8.25 194.4V240.0M11.25 194.4V240.0M12.75 58.8V132.0M15.75 132.0V194.4M18.75 194.4V240.0M20.25 58.8V132.0M20.25 194.4V240.0M23.25 0.0V58.8M27.75 0.0V58.8M27.75 194.4V240.0M30.75 58.8V132.0M32.25 132.0V194.4M35.25 194.4V240.0M36.75 132.0V194.4M36.75 194.4V240.0M38.25 132.0V194.4M39.75 0.0V58.8M41.25 0.0V58.8M42.75 0.0V58.8M42.75 132.0V194.4M44.25 194.4V240.0M45.75 132.0V194.4M48.75 0.0V58.8M48.75 132.0V194.4M51.75 0.0V58.8M51.75 132.0V194.4M54.75 58.8V132.0M54.75 132.0V194.4M56.25 58.8V132.0M56.25 194.4V240.0M57.75 58.8V132.0M57.75 132.0V194.4M60.75 0.0V58.8M60.75 132.0V194.4M62.25 132.0V194.4M63.75 58.8V132.0M68.25 0.0V58.8M71.25 132.0V194.4M71.25 194.4V240.0M72.75 0.0V58.8M72.75 132.0V194.4M75.75 0.0V58.8M77.25 0.0V58.8M77.25 132.0V194.4M78.75 0.0V58.8M78.75 132.0V194.4M78.75 194.4V240.0M80.25 132.0V194.4M80.25 194.4V240.0M81.75 0.0V58.8M84.75 0.0V58.8M87.75 194.4V240.0M89.25 194.4V240.0M90.75 0.0V58.8M92.25 194.4V240.0M93.75 132.0V194.4M95.25 132.0V194.4M95.25 194.4V240.0M96.75 58.8V132.0M98.25 0.0V58.8M99.75 194.4V240.0M101.25 0.0V58.8M101.25 194.4V240.0M104.25 132.0V194.4M105.75 132.0V194.4M105.75 194.4V240.0M108.75 132.0V194.4M108.75 194.4V240.0M110.25 132.0V194.4M114.75 58.8V132.0M116.25 132.0V194.4M117.75 0.0V58.8M119.25 194.4V240.0M120.75 132.0V194.4M122.25 194.4V240.0M123.75 0.0V58.8M125.25 194.4V240.0M126.75 0.0V58.8M126.75 132.0V194.4M126.75 194.4V240.0M128.25 0.0V58.8M128.25 58.8V132.0M128.25 194.4V240.0M132.75 132.0V194.4M132.75 194.4V240.0M141.75 194.4V240.0M144.75 194.4V240.0M146.25 194.4V240.0M149.25 132.0V194.4M153.75 0.0V58.8M153.75 194.4V240.0M155.25 0.0V58.8M155.25 58.8V132.0M155.25 194.4V240.0M156.75 0.0V58.8M161.25 0.0V58.8M162.75 0.0V58.8M162.75 58.8V132.0M162.75 132.0V194.4M162.75 194.4V240.0M168.75 194.4V240.0M171.75 0.0V58.8M173.25 0.0V58.8M173.25 58.8V132.0M174.75 132.0V194.4M174.75 194.4V240.0M176.25 132.0V194.4M179.25 0.0V58.8M179.25 58.8V132.0M179.25 194.4V240.0M180.75 132.0V194.4M183.75 58.8V132.0M185.25 132.0V194.4M185.25 194.4V240.0M186.75 132.0V194.4M188.25 58.8V132.0M188.25 132.0V194.4M189.75 58.8V132.0M189.75 132.0V194.4M192.75 0.0V58.8M194.25 0.0V58.8M194.25 58.8V132.0M194.25 132.0V194.4M194.25 194.4V240.0M195.75 132.0V194.4M197.25 0.0V58.8M197.25 132.0V194.4M197.25 194.4V240.0M198.75 58.8V132.0M198.75 132.0V194.4M198.75 194.4V240.0M201.75 0.0V58.8M204.75 132.0V194.4M206.25 58.8V132.0M209.25 0.0V58.8M209.25 58.8V132.0M210.75 0.0V58.8M210.75 194.4V240.0M212.25 194.4V240.0M213.75 58.8V132.0M213.75 132.0V194.4M213.75 194.4V240.0M215.25 132.0V194.4M215.25 194.4V240.0M221.25 194.4V240.0M224.25 194.4V240.0M227.25 0.0V58.8M230.25 194.4V240.0M231.75 0.0V58.8M233.25 0.0V58.8M234.75 58.8V132.0M236.25 0.0V58.8M239.25 58.8V132.0M239.25 132.0V194.4M239.25 194.4V240.0" stroke="#64826a" stroke-opacity="0.32" stroke-width="1.50" fill="none"/>
<path d="M0.0 14.25H58.8M58.8 14.25H132.0M194.4 14.25H240.0M0.0 17.25H58.8M58.8 17.25H132.0M58.8 21.75H132.0M132.0 21.75H194.4M194.4 21.75H240.0M194.4 23.25H240.0M58.8 24.75H132.0M58.8 26.25H132.0M132.0 26.25H194.4M194.4 26.25H240.0M0.0 30.75H58.8M194.4 32.25H240.0M58.8 33.75H132.0M132.0 33.75H194.4M58.8 38.25H132.0M194.4 38.25H240.0M58.8 39.75H132.0M132.0 41.25H194.4M58.8 44.25H132.0M0.0 45.75H58.8M132.0 47.25H194.4M58.8 50.25H132.0M132.0 50.25H194.4M194.4 50.25H240.0M0.0 53.25H58.8M58.8 53.25H132.0M0.0 54.75H58.8M0.0 57.75H58.8M0.0 59.25H58.8M58.8 59.25H132.0M194.4 59.25H240.0M58.8 60.75H132.0M194.4 60.75H240.0M132.0 65.25H194.4M194.4 65.25H240.0M58.8 66.75H132.0M0.0 69.75H58.8M58.8 69.75H132.0M0.0 71.25H58.8M58.8 71.25H132.0M194.4 74.25H240.0M194.4 75.75H240.0M58.8 81.75H132.0M194.4 81.75H240.0M0.0 83.25H58.8M58.8 83.25H132.0M132.0 83.25H194.4M194.4 83.25H240.0M132.0 86.25H194.4M0.0 87.75H58.8M58.8 89.25H132.0M58.8 90.75H132.0M0.0 93.75H58.8M58.8 93.75H132.0M132.0 98.25H194.4M132.0 101.25H194.4M132.0 102.75H194.4M0.0 105.75H58.8M58.8 105.75H132.0M58.8 107.25H132.0M132.0 107.25H194.4M0.0 108.75H58.8M58.8 108.75H132.0M58.8 111.75H132.0M194.4 116.25H240.0M194.4 117.75H240.0M58.8 122.25H132.0M58.8 123.75H132.0M0.0 129.75H58.8M0.0 131.25H58.8M58.8 135.75H132.0M194.4 135.75H240.0M0.0 137.25H58.8M58.8 137.25H132.0M58.8 138.75H132.0M194.4 138.75H240.0M0.0 140.25H58.8M58.8 140.25H132.0M58.8 143.25H132.0M132.0 143.25H194.4M194.4 143.25H240.0M58.8 144.75H132.0M0.0 147.75H58.8M194.4 147.75H240.0M132.0 150.75H194.4M194.4 150.75H240.0M0.0 152.25H58.8M132.0 156.75H194.4M0.0 158.25H58.8M58.8 158.25H132.0M132.0 158.25H194.4M0.0 159.75H58.8M132.0 159.75H194.4M194.4 159.75H240.0M132.0 161.25H194.4M58.8 165.75H132.0M132.0 171.75H194.4M0.0 176.25H58.8M194.4 176.25H240.0M0.0 180.75H58.8M58.8 182.25H132.0M58.8 185.25H132.0M194.4 186.75H240.0M0.0 188.25H58.8M194.4 188.25H240.0M132.0 192.75H194.4M194.4 192.75H240.0M0.0 195.75H58.8M0.0 198.75H58.8M58.8 200.25H132.0M132.0 200.25H194.4M194.4 200.25H240.0M132.0 201.75H194.4M0.0 203.25H58.8M58.8 203.25H132.0M132.0 203.25H194.4M132.0 206.25H194.4M194.4 206.25H240.0M132.0 207.75H194.4M194.4 207.75H240.0M0.0 212.25H58.8M194.4 216.75H240.0M0.0 218.25H58.8M58.8 218.25H132.0M132.0 218.25H194.4M0.0 219.75H58.8M132.0 219.75H194.4M194.4 219.75H240.0M0.0 222.75H58.8M58.8 222.75H132.0M132.0 224.25H194.4M0.0 225.75H58.8M194.4 227.25H240.0M58.8 233.25H132.0M194.4 236.25H240.0M0.0 237.75H58.8M194.4 237.75H240.0M14.25 0.0V58.8M14.25 58.8V132.0M14.25 194.4V240.0M17.25 0.0V58.8M17.25 58.8V132.0M21.75 58.8V132.0M21.75 132.0V194.4M21.75 194.4V240.0M23.25 194.4V240.0M24.75 58.8V132.0M26.25 58.8V132.0M26.25 132.0V194.4M26.25 194.4V240.0M30.75 0.0V58.8M32.25 194.4V240.0M33.75 58.8V132.0M33.75 132.0V194.4M38.25 58.8V132.0M38.25 194.4V240.0M39.75 58.8V132.0M41.25 132.0V194.4M44.25 58.8V132.0M45.75 0.0V58.8M47.25 132.0V194.4M50.25 58.8V132.0M50.25 132.0V194.4M50.25 194.4V240.0M53.25 0.0V58.8M53.25 58.8V132.0M54.75 0.0V58.8M57.75 0.0V58.8M59.25 0.0V58.8M59.25 58.8V132.0M59.25 194.4V240.0M60.75 58.8V132.0M60.75 194.4V240.0M65.25 132.0V194.4M65.25 194.4V240.0M66.75 58.8V132.0M69.75 0.0V58.8M69.75 58.8V132.0M71.25 0.0V58.8M71.25 58.8V132.0M74.25 194.4V240.0M75.75 194.4V240.0M81.75 58.8V132.0M81.75 194.4V240.0M83.25 0.0V58.8M83.25 58.8V132.0M83.25 132.0V194.4M83.25 194.4V240.0M86.25 132.0V194.4M87.75 0.0V58.8M89.25 58.8V132.0M90.75 58.8V132.0M93.75 0.0V58.8M93.75 58.8V132.0M98.25 132.0V194.4M101.25 132.0V194.4M102.75 132.0V194.4M105.75 0.0V58.8M105.75 58.8V132.0M107.25 58.8V132.0M107.25 132.0V194.4M108.75 0.0V58.8M108.75 58.8V132.0M111.75 58.8V132.0M116.25 194.4V240.0M117.75 194.4V240.0M122.25 58.8V132.0M123.75 58.8V132.0M129.75 0.0V58.8M131.25 0.0V58.8M135.75 58.8V132.0M135.75 194.4V240.0M137.25 0.0V58.8M137.25 58.8V132.0M138.75 58.8V132.0M138.75 194.4V240.0M140.25 0.0V58.8M140.25 58.8V132.0M143.25 58.8V132.0M143.25 132.0V194.4M143.25 194.4V240.0M144.75 58.8V132.0M147.75 0.0V58.8M147.75 194.4V240.0M150.75 132.0V194.4M150.75 194.4V240.0M152.25 0.0V58.8M156.75 132.0V194.4M158.25 0.0V58.8M158.25 58.8V132.0M158.25 132.0V194.4M159.75 0.0V58.8M159.75 132.0V194.4M159.75 194.4V240.0M161.25 132.0V194.4M165.75 58.8V132.0M171.75 132.0V194.4M176.25 0.0V58.8M176.25 194.4V240.0M180.75 0.0V58.8M182.25 58.8V132.0M185.25 58.8V132.0M186.75 194.4V240.0M188.25 0.0V58.8M188.25 194.4V240.0M192.75 132.0V194.4M192.75 194.4V240.0M195.75 0.0V58.8M198.75 0.0V58.8M200.25 58.8V132.0M200.25 132.0V194.4M200.25 194.4V240.0M201.75 132.0V194.4M203.25 0.0V58.8M203.25 58.8V132.0M203.25 132.0V194.4M206.25 132.0V194.4M206.25 194.4V240.0M207.75 132.0V194.4M207.75 194.4V240.0M212.25 0.0V58.8M216.75 194.4V240.0M218.25 0.0V58.8M218.25 58.8V132.0M218.25 132.0V194.4M219.75 0.0V58.8M219.75 132.0V194.4M219.75 194.4V240.0M222.75 0.0V58.8M222.75 58.8V132.0M224.25 132.0V194.4M225.75 0.0V58.8M227.25 194.4V240.0M233.25 58.8V132.0M236.25 194.4V240.0M237.75 0.0V58.8M237.75 194.4V240.0" stroke="#dcb87a" stroke-opacity="0.30" stroke-width="1.50" fill="none"/>
<path d="M132.0 5.25H194.4M58.8 9.75H132.0M0.0 12.75H58.8M0.0 15.75H58.8M58.8 15.75H132.0M194.4 15.75H240.0M194.4 17.25H240.0M132.0 29.25H194.4M58.8 36.75H132.0M58.8 41.25H132.0M0.0 47.25H58.8M58.8 47.25H132.0M58.8 51.75H132.0M194.4 53.25H240.0M0.0 65.25H58.8M0.0 66.75H58.8M132.0 69.75H194.4M132.0 84.75H194.4M194.4 86.25H240.0M194.4 90.75H240.0M0.0 92.25H58.8M0.0 102.75H58.8M0.0 104.25H58.8M0.0 107.25H58.8M58.8 110.25H132.0M58.8 113.25H132.0M132.0 113.25H194.4M132.0 129.75H194.4M0.0 150.75H58.8M58.8 150.75H132.0M58.8 195.75H132.0M194.4 203.25H240.0M0.0 216.75H58.8M132.0 222.75H194.4M58.8 224.25H132.0M132.0 225.75H194.4M132.0 227.25H194.4M132.0 228.75H194.4M194.4 234.75H240.0M132.0 237.75H194.4M5.25 132.0V194.4M9.75 58.8V132.0M12.75 0.0V58.8M15.75 0.0V58.8M15.75 58.8V132.0M15.75 194.4V240.0M17.25 194.4V240.0M29.25 132.0V194.4M36.75 58.8V132.0M41.25 58.8V132.0M47.25 0.0V58.8M47.25 58.8V132.0M51.75 58.8V132.0M53.25 194.4V240.0M65.25 0.0V58.8M66.75 0.0V58.8M69.75 132.0V194.4M84.75 132.0V194.4M86.25 194.4V240.0M90.75 194.4V240.0M92.25 0.0V58.8M102.75 0.0V58.8M104.25 0.0V58.8M107.25 0.0V58.8M110.25 58.8V132.0M113.25 58.8V132.0M113.25 132.0V194.4M129.75 132.0V194.4M150.75 0.0V58.8M150.75 58.8V132.0M195.75 58.8V132.0M203.25 194.4V240.0M216.75 0.0V58.8M222.75 132.0V194.4M224.25 58.8V132.0M225.75 132.0V194.4M227.25 132.0V194.4M228.75 132.0V194.4M234.75 194.4V240.0M237.75 132.0V194.4" stroke="#e6c486" stroke-opacity="0.45" stroke-width="1.50" fill="none"/>
<path d="M58.8 2.25H132.0M194.4 9.75H240.0M194.4 47.25H240.0M132.0 66.75H194.4M194.4 158.25H240.0M0.0 177.75H58.8M58.8 177.75H132.0M194.4 177.75H240.0M58.8 216.75H132.0M132.0 216.75H194.4M2.25 58.8V132.0M9.75 194.4V240.0M47.25 194.4V240.0M66.75 132.0V194.4M158.25 194.4V240.0M177.75 0.0V58.8M177.75 58.8V132.0M177.75 194.4V240.0M216.75 58.8V132.0M216.75 132.0V194.4" stroke="#f0d296" stroke-opacity="0.60" stroke-width="1.50" fill="none"/>
</g>
<line x1="0" y1="0" x2="240" y2="240" stroke="#f2dfae" stroke-opacity="0.6" stroke-width="1.2"/>
</g>
<rect x="0" y="0" width="240" height="240" fill="none" stroke="#1a1a14" stroke-width="1.8"/>
<line x1="0" y1="119.0" x2="5" y2="119.0" stroke="#111" stroke-width="1.6"/>
<line x1="120.0" y1="240" x2="120.0" y2="235" stroke="#111" stroke-width="1.6"/>
</g>
<g transform="translate(750.4 750.7)">
<clipPath id="hc3"><rect x="0" y="0" width="240" height="240"/></clipPath>
<defs><filter id="hn3" x="0" y="0" width="100%" height="100%" color-interpolation-filters="sRGB"><feTurbulence type="fractalNoise" baseFrequency="0.62" numOctaves="2" seed="36" result="n"/><feColorMatrix in="n" type="matrix" values="0.42 0 0 0 0.290 0.16 0 0 0 0.420 0.0 0 0 0 0.500 0 0 0 0 1" result="n2"/><feComposite in="SourceGraphic" in2="n2" operator="arithmetic" k1="0" k2="1" k3="1" k4="-0.5" result="c"/><feGaussianBlur in="c" stdDeviation="0.38"/></filter></defs>
<g clip-path="url(#hc3)"><g filter="url(#hn3)">
<rect x="-2" y="-2" width="244" height="244" fill="#909872"/>
<rect x="0.0" y="0.0" width="9.9" height="9.9" fill="#bea873"/>
<rect x="9.6" y="0.0" width="31.5" height="9.9" fill="#b1a373"/>
<rect x="40.8" y="0.0" width="29.1" height="9.9" fill="#aaa173"/>
<rect x="69.6" y="0.0" width="153.4" height="9.9" fill="#aaa173"/>
<rect x="222.7" y="0.0" width="3.4" height="9.9" fill="#6a8972"/>
<rect x="225.8" y="0.0" width="14.5" height="9.9" fill="#b7a673"/>
<rect x="0.0" y="9.6" width="9.9" height="31.5" fill="#b1a373"/>
<rect x="9.6" y="9.6" width="31.5" height="31.5" fill="#bfa873"/>
<rect x="40.8" y="9.6" width="29.1" height="31.5" fill="#a39e73"/>
<rect x="69.6" y="9.6" width="153.4" height="31.5" fill="#849372"/>
<rect x="222.7" y="9.6" width="3.4" height="31.5" fill="#5d8572"/>
<rect x="225.8" y="9.6" width="14.5" height="31.5" fill="#a09d73"/>
<rect x="0.0" y="40.8" width="9.9" height="29.1" fill="#aaa173"/>
<rect x="9.6" y="40.8" width="31.5" height="29.1" fill="#a39e73"/>
<rect x="40.8" y="40.8" width="29.1" height="29.1" fill="#b7a673"/>
<rect x="69.6" y="40.8" width="153.4" height="29.1" fill="#7d9072"/>
<rect x="222.7" y="40.8" width="3.4" height="29.1" fill="#5d8572"/>
<rect x="225.8" y="40.8" width="14.5" height="29.1" fill="#9b9b73"/>
<rect x="0.0" y="69.6" width="9.9" height="153.4" fill="#aaa173"/>
<rect x="9.6" y="69.6" width="31.5" height="153.4" fill="#849372"/>
<rect x="40.8" y="69.6" width="29.1" height="153.4" fill="#7d9072"/>
<rect x="69.6" y="69.6" width="153.4" height="153.4" fill="#bfa873"/>
<rect x="222.7" y="69.6" width="3.4" height="153.4" fill="#5d8572"/>
<rect x="225.8" y="69.6" width="14.5" height="153.4" fill="#bca773"/>
<rect x="0.0" y="222.7" width="9.9" height="3.4" fill="#6a8972"/>
<rect x="9.6" y="222.7" width="31.5" height="3.4" fill="#5d8572"/>
<rect x="40.8" y="222.7" width="29.1" height="3.4" fill="#5d8572"/>
<rect x="69.6" y="222.7" width="153.4" height="3.4" fill="#5d8572"/>
<rect x="222.7" y="222.7" width="3.4" height="3.4" fill="#909872"/>
<rect x="225.8" y="222.7" width="14.5" height="3.4" fill="#5f8672"/>
<rect x="0.0" y="225.8" width="9.9" height="14.5" fill="#b7a673"/>
<rect x="9.6" y="225.8" width="31.5" height="14.5" fill="#a09d73"/>
<rect x="40.8" y="225.8" width="29.1" height="14.5" fill="#9b9b73"/>
<rect x="69.6" y="225.8" width="153.4" height="14.5" fill="#bca773"/>
<rect x="222.7" y="225.8" width="3.4" height="14.5" fill="#5f8672"/>
<rect x="225.8" y="225.8" width="14.5" height="14.5" fill="#bea873"/>
<path d="M222.7 5.25H225.8M9.6 9.75H40.8M40.8 9.75H69.6M69.6 9.75H222.7M222.7 9.75H225.8M225.8 9.75H240.0M69.6 39.75H222.7M222.7 39.75H225.8M0.0 65.25H9.6M9.6 65.25H40.8M69.6 65.25H222.7M222.7 65.25H225.8M225.8 68.25H240.0M0.0 83.25H9.6M9.6 83.25H40.8M40.8 83.25H69.6M69.6 83.25H222.7M222.7 83.25H225.8M225.8 83.25H240.0M40.8 107.25H69.6M9.6 215.25H40.8M225.8 215.25H240.0M5.25 222.7V225.8M9.75 9.6V40.8M9.75 40.8V69.6M9.75 69.6V222.7M9.75 222.7V225.8M9.75 225.8V240.0M39.75 69.6V222.7M39.75 222.7V225.8M65.25 0.0V9.6M65.25 9.6V40.8M65.25 69.6V222.7M65.25 222.7V225.8M68.25 225.8V240.0M83.25 0.0V9.6M83.25 9.6V40.8M83.25 40.8V69.6M83.25 69.6V222.7M83.25 222.7V225.8M83.25 225.8V240.0M107.25 40.8V69.6M215.25 9.6V40.8M215.25 225.8V240.0" stroke="#347270" stroke-opacity="0.62" stroke-width="1.50" fill="none"/>
<path d="M0.0 5.25H9.6M69.6 5.25H222.7M9.6 8.25H40.8M40.8 8.25H69.6M0.0 9.75H9.6M225.8 11.25H240.0M225.8 12.75H240.0M222.7 14.25H225.8M0.0 23.25H9.6M0.0 24.75H9.6M0.0 26.25H9.6M40.8 29.25H69.6M9.6 32.25H40.8M222.7 35.25H225.8M0.0 36.75H9.6M225.8 36.75H240.0M0.0 38.25H9.6M0.0 39.75H9.6M9.6 39.75H40.8M40.8 39.75H69.6M225.8 39.75H240.0M9.6 41.25H40.8M222.7 42.75H225.8M225.8 44.25H240.0M40.8 48.75H69.6M0.0 53.25H9.6M222.7 53.25H225.8M225.8 53.25H240.0M9.6 54.75H40.8M9.6 56.25H40.8M69.6 63.75H222.7M225.8 63.75H240.0M40.8 65.25H69.6M225.8 65.25H240.0M225.8 66.75H240.0M40.8 68.25H69.6M222.7 72.75H225.8M69.6 74.25H222.7M69.6 86.25H222.7M222.7 86.25H225.8M222.7 87.75H225.8M9.6 89.25H40.8M9.6 93.75H40.8M9.6 96.75H40.8M40.8 105.75H69.6M0.0 107.25H9.6M9.6 107.25H40.8M69.6 107.25H222.7M222.7 107.25H225.8M225.8 107.25H240.0M9.6 108.75H40.8M40.8 108.75H69.6M0.0 111.75H9.6M9.6 111.75H40.8M40.8 111.75H69.6M222.7 111.75H225.8M225.8 111.75H240.0M40.8 117.75H69.6M40.8 120.75H69.6M225.8 120.75H240.0M0.0 129.75H9.6M9.6 129.75H40.8M40.8 129.75H69.6M225.8 129.75H240.0M9.6 132.75H40.8M69.6 132.75H222.7M225.8 132.75H240.0M225.8 153.75H240.0M9.6 159.75H40.8M222.7 168.75H225.8M69.6 183.75H222.7M225.8 183.75H240.0M225.8 185.25H240.0M222.7 192.75H225.8M0.0 203.25H9.6M222.7 207.75H225.8M9.6 209.25H40.8M222.7 209.25H225.8M225.8 209.25H240.0M9.6 210.75H40.8M0.0 215.25H9.6M40.8 215.25H69.6M69.6 215.25H222.7M222.7 215.25H225.8M9.6 228.75H40.8M0.0 233.25H9.6M0.0 236.25H9.6M69.6 237.75H222.7M5.25 0.0V9.6M5.25 69.6V222.7M8.25 9.6V40.8M8.25 40.8V69.6M9.75 0.0V9.6M11.25 225.8V240.0M12.75 225.8V240.0M14.25 222.7V225.8M23.25 0.0V9.6M24.75 0.0V9.6M26.25 0.0V9.6M29.25 40.8V69.6M32.25 9.6V40.8M35.25 222.7V225.8M36.75 0.0V9.6M36.75 225.8V240.0M38.25 0.0V9.6M39.75 0.0V9.6M39.75 9.6V40.8M39.75 40.8V69.6M39.75 225.8V240.0M41.25 9.6V40.8M42.75 222.7V225.8M44.25 225.8V240.0M48.75 40.8V69.6M53.25 0.0V9.6M53.25 222.7V225.8M53.25 225.8V240.0M54.75 9.6V40.8M56.25 9.6V40.8M63.75 69.6V222.7M63.75 225.8V240.0M65.25 40.8V69.6M65.25 225.8V240.0M66.75 225.8V240.0M68.25 40.8V69.6M72.75 222.7V225.8M74.25 69.6V222.7M86.25 69.6V222.7M86.25 222.7V225.8M87.75 222.7V225.8M89.25 9.6V40.8M93.75 9.6V40.8M96.75 9.6V40.8M105.75 40.8V69.6M107.25 0.0V9.6M107.25 9.6V40.8M107.25 69.6V222.7M107.25 222.7V225.8M107.25 225.8V240.0M108.75 9.6V40.8M108.75 40.8V69.6M111.75 0.0V9.6M111.75 9.6V40.8M111.75 40.8V69.6M111.75 222.7V225.8M111.75 225.8V240.0M117.75 40.8V69.6M120.75 40.8V69.6M120.75 225.8V240.0M129.75 0.0V9.6M129.75 9.6V40.8M129.75 40.8V69.6M129.75 225.8V240.0M132.75 9.6V40.8M132.75 69.6V222.7M132.75 225.8V240.0M153.75 225.8V240.0M159.75 9.6V40.8M168.75 222.7V225.8M183.75 69.6V222.7M183.75 225.8V240.0M185.25 225.8V240.0M192.75 222.7V225.8M203.25 0.0V9.6M207.75 222.7V225.8M209.25 9.6V40.8M209.25 222.7V225.8M209.25 225.8V240.0M210.75 9.6V40.8M215.25 0.0V9.6M215.25 40.8V69.6M215.25 69.6V222.7M215.25 222.7V225.8M228.75 9.6V40.8M233.25 0.0V9.6M236.25 0.0V9.6M237.75 69.6V222.7" stroke="#427a70" stroke-opacity="0.46" stroke-width="1.50" fill="none"/>
<path d="M222.7 2.25H225.8M225.8 5.25H240.0M9.6 6.75H40.8M69.6 6.75H222.7M69.6 8.25H222.7M69.6 11.25H222.7M0.0 12.75H9.6M40.8 12.75H69.6M222.7 12.75H225.8M69.6 14.25H222.7M225.8 14.25H240.0M69.6 15.75H222.7M222.7 15.75H225.8M225.8 15.75H240.0M40.8 21.75H69.6M9.6 23.25H40.8M9.6 24.75H40.8M222.7 24.75H225.8M225.8 24.75H240.0M9.6 26.25H40.8M40.8 26.25H69.6M222.7 26.25H225.8M225.8 26.25H240.0M9.6 29.25H40.8M222.7 29.25H225.8M225.8 29.25H240.0M9.6 30.75H40.8M69.6 30.75H222.7M225.8 30.75H240.0M222.7 33.75H225.8M222.7 36.75H225.8M9.6 38.25H40.8M222.7 38.25H225.8M0.0 41.25H9.6M225.8 41.25H240.0M9.6 42.75H40.8M69.6 42.75H222.7M225.8 42.75H240.0M9.6 44.25H40.8M40.8 44.25H69.6M0.0 48.75H9.6M9.6 48.75H40.8M225.8 48.75H240.0M0.0 50.25H9.6M225.8 50.25H240.0M9.6 53.25H40.8M40.8 53.25H69.6M225.8 54.75H240.0M40.8 56.25H69.6M40.8 57.75H69.6M40.8 59.25H69.6M0.0 60.75H9.6M9.6 60.75H40.8M40.8 60.75H69.6M69.6 60.75H222.7M225.8 60.75H240.0M69.6 62.25H222.7M40.8 63.75H69.6M40.8 66.75H69.6M69.6 66.75H222.7M222.7 68.25H225.8M40.8 69.75H69.6M222.7 69.75H225.8M0.0 72.75H9.6M69.6 72.75H222.7M69.6 80.25H222.7M69.6 81.75H222.7M0.0 86.25H9.6M225.8 86.25H240.0M9.6 87.75H40.8M69.6 87.75H222.7M0.0 89.25H9.6M40.8 89.25H69.6M69.6 89.25H222.7M222.7 89.25H225.8M225.8 89.25H240.0M9.6 90.75H40.8M0.0 93.75H9.6M69.6 93.75H222.7M225.8 96.75H240.0M9.6 98.25H40.8M222.7 98.25H225.8M0.0 99.75H9.6M9.6 99.75H40.8M222.7 99.75H225.8M0.0 101.25H9.6M9.6 101.25H40.8M222.7 101.25H225.8M9.6 105.75H40.8M69.6 111.75H222.7M40.8 116.25H69.6M0.0 117.75H9.6M0.0 120.75H9.6M9.6 120.75H40.8M69.6 120.75H222.7M9.6 125.25H40.8M222.7 125.25H225.8M225.8 126.75H240.0M69.6 129.75H222.7M222.7 129.75H225.8M225.8 131.25H240.0M40.8 132.75H69.6M222.7 132.75H225.8M9.6 134.25H40.8M40.8 134.25H69.6M69.6 134.25H222.7M222.7 134.25H225.8M225.8 134.25H240.0M9.6 135.75H40.8M40.8 135.75H69.6M222.7 135.75H225.8M225.8 135.75H240.0M0.0 137.25H9.6M9.6 137.25H40.8M40.8 137.25H69.6M69.6 137.25H222.7M225.8 137.25H240.0M0.0 138.75H9.6M69.6 138.75H222.7M222.7 138.75H225.8M225.8 138.75H240.0M69.6 140.25H222.7M0.0 141.75H9.6M69.6 141.75H222.7M222.7 141.75H225.8M225.8 141.75H240.0M0.0 143.25H9.6M0.0 146.25H9.6M40.8 146.25H69.6M222.7 146.25H225.8M222.7 147.75H225.8M225.8 147.75H240.0M40.8 152.25H69.6M9.6 153.75H40.8M69.6 155.25H222.7M225.8 155.25H240.0M69.6 156.75H222.7M225.8 156.75H240.0M9.6 158.25H40.8M40.8 158.25H69.6M0.0 159.75H9.6M40.8 159.75H69.6M69.6 159.75H222.7M40.8 161.25H69.6M69.6 161.25H222.7M225.8 161.25H240.0M0.0 164.25H9.6M69.6 164.25H222.7M0.0 167.25H9.6M9.6 168.75H40.8M225.8 168.75H240.0M225.8 170.25H240.0M9.6 171.75H40.8M69.6 171.75H222.7M225.8 171.75H240.0M69.6 173.25H222.7M9.6 174.75H40.8M0.0 176.25H9.6M9.6 176.25H40.8M0.0 177.75H9.6M69.6 177.75H222.7M225.8 177.75H240.0M69.6 180.75H222.7M69.6 182.25H222.7M0.0 185.25H9.6M69.6 185.25H222.7M40.8 186.75H69.6M69.6 189.75H222.7M222.7 189.75H225.8M225.8 189.75H240.0M40.8 194.25H69.6M69.6 194.25H222.7M222.7 194.25H225.8M225.8 194.25H240.0M69.6 195.75H222.7M225.8 195.75H240.0M225.8 197.25H240.0M225.8 198.75H240.0M0.0 200.25H9.6M40.8 200.25H69.6M0.0 201.75H9.6M222.7 201.75H225.8M225.8 203.25H240.0M0.0 204.75H9.6M222.7 204.75H225.8M0.0 206.25H9.6M225.8 206.25H240.0M9.6 207.75H40.8M69.6 207.75H222.7M225.8 207.75H240.0M69.6 209.25H222.7M0.0 210.75H9.6M69.6 210.75H222.7M225.8 210.75H240.0M0.0 212.25H9.6M0.0 213.75H9.6M0.0 216.75H9.6M9.6 216.75H40.8M222.7 216.75H225.8M0.0 218.25H9.6M69.6 224.25H222.7M225.8 224.25H240.0M0.0 225.75H9.6M225.8 225.75H240.0M0.0 228.75H9.6M40.8 228.75H69.6M222.7 228.75H225.8M9.6 230.25H40.8M69.6 230.25H222.7M40.8 231.75H69.6M0.0 234.75H9.6M69.6 234.75H222.7M225.8 234.75H240.0M0.0 237.75H9.6M9.6 237.75H40.8M40.8 237.75H69.6M0.0 239.25H9.6M2.25 222.7V225.8M5.25 225.8V240.0M6.75 9.6V40.8M6.75 69.6V222.7M8.25 69.6V222.7M11.25 69.6V222.7M12.75 0.0V9.6M12.75 40.8V69.6M12.75 222.7V225.8M14.25 69.6V222.7M14.25 225.8V240.0M15.75 69.6V222.7M15.75 222.7V225.8M15.75 225.8V240.0M21.75 40.8V69.6M23.25 9.6V40.8M24.75 9.6V40.8M24.75 222.7V225.8M24.75 225.8V240.0M26.25 9.6V40.8M26.25 40.8V69.6M26.25 222.7V225.8M26.25 225.8V240.0M29.25 9.6V40.8M29.25 222.7V225.8M29.25 225.8V240.0M30.75 9.6V40.8M30.75 69.6V222.7M30.75 225.8V240.0M33.75 222.7V225.8M36.75 222.7V225.8M38.25 9.6V40.8M38.25 222.7V225.8M41.25 0.0V9.6M41.25 225.8V240.0M42.75 9.6V40.8M42.75 69.6V222.7M42.75 225.8V240.0M44.25 9.6V40.8M44.25 40.8V69.6M48.75 0.0V9.6M48.75 9.6V40.8M48.75 225.8V240.0M50.25 0.0V9.6M50.25 225.8V240.0M53.25 9.6V40.8M53.25 40.8V69.6M54.75 225.8V240.0M56.25 40.8V69.6M57.75 40.8V69.6M59.25 40.8V69.6M60.75 0.0V9.6M60.75 9.6V40.8M60.75 40.8V69.6M60.75 69.6V222.7M60.75 225.8V240.0M62.25 69.6V222.7M63.75 40.8V69.6M66.75 40.8V69.6M66.75 69.6V222.7M68.25 222.7V225.8M69.75 40.8V69.6M69.75 222.7V225.8M72.75 0.0V9.6M72.75 69.6V222.7M80.25 69.6V222.7M81.75 69.6V222.7M86.25 0.0V9.6M86.25 225.8V240.0M87.75 9.6V40.8M87.75 69.6V222.7M89.25 0.0V9.6M89.25 40.8V69.6M89.25 69.6V222.7M89.25 222.7V225.8M89.25 225.8V240.0M90.75 9.6V40.8M93.75 0.0V9.6M93.75 69.6V222.7M96.75 225.8V240.0M98.25 9.6V40.8M98.25 222.7V225.8M99.75 0.0V9.6M99.75 9.6V40.8M99.75 222.7V225.8M101.25 0.0V9.6M101.25 9.6V40.8M101.25 222.7V225.8M105.75 9.6V40.8M111.75 69.6V222.7M116.25 40.8V69.6M117.75 0.0V9.6M120.75 0.0V9.6M120.75 9.6V40.8M120.75 69.6V222.7M125.25 9.6V40.8M125.25 222.7V225.8M126.75 225.8V240.0M129.75 69.6V222.7M129.75 222.7V225.8M131.25 225.8V240.0M132.75 40.8V69.6M132.75 222.7V225.8M134.25 9.6V40.8M134.25 40.8V69.6M134.25 69.6V222.7M134.25 222.7V225.8M134.25 225.8V240.0M135.75 9.6V40.8M135.75 40.8V69.6M135.75 222.7V225.8M135.75 225.8V240.0M137.25 0.0V9.6M137.25 9.6V40.8M137.25 40.8V69.6M137.25 69.6V222.7M137.25 225.8V240.0M138.75 0.0V9.6M138.75 69.6V222.7M138.75 222.7V225.8M138.75 225.8V240.0M140.25 69.6V222.7M141.75 0.0V9.6M141.75 69.6V222.7M141.75 222.7V225.8M141.75 225.8V240.0M143.25 0.0V9.6M146.25 0.0V9.6M146.25 40.8V69.6M146.25 222.7V225.8M147.75 222.7V225.8M147.75 225.8V240.0M152.25 40.8V69.6M153.75 9.6V40.8M155.25 69.6V222.7M155.25 225.8V240.0M156.75 69.6V222.7M156.75 225.8V240.0M158.25 9.6V40.8M158.25 40.8V69.6M159.75 0.0V9.6M159.75 40.8V69.6M159.75 69.6V222.7M161.25 40.8V69.6M161.25 69.6V222.7M161.25 225.8V240.0M164.25 0.0V9.6M164.25 69.6V222.7M167.25 0.0V9.6M168.75 9.6V40.8M168.75 225.8V240.0M170.25 225.8V240.0M171.75 9.6V40.8M171.75 69.6V222.7M171.75 225.8V240.0M173.25 69.6V222.7M174.75 9.6V40.8M176.25 0.0V9.6M176.25 9.6V40.8M177.75 0.0V9.6M177.75 69.6V222.7M177.75 225.8V240.0M180.75 69.6V222.7M182.25 69.6V222.7M185.25 0.0V9.6M185.25 69.6V222.7M186.75 40.8V69.6M189.75 69.6V222.7M189.75 222.7V225.8M189.75 225.8V240.0M194.25 40.8V69.6M194.25 69.6V222.7M194.25 222.7V225.8M194.25 225.8V240.0M195.75 69.6V222.7M195.75 225.8V240.0M197.25 225.8V240.0M198.75 225.8V240.0M200.25 0.0V9.6M200.25 40.8V69.6M201.75 0.0V9.6M201.75 222.7V225.8M203.25 225.8V240.0M204.75 0.0V9.6M204.75 222.7V225.8M206.25 0.0V9.6M206.25 225.8V240.0M207.75 9.6V40.8M207.75 69.6V222.7M207.75 225.8V240.0M209.25 69.6V222.7M210.75 0.0V9.6M210.75 69.6V222.7M210.75 225.8V240.0M212.25 0.0V9.6M213.75 0.0V9.6M216.75 0.0V9.6M216.75 9.6V40.8M216.75 222.7V225.8M218.25 0.0V9.6M224.25 69.6V222.7M224.25 225.8V240.0M225.75 0.0V9.6M225.75 225.8V240.0M228.75 0.0V9.6M228.75 40.8V69.6M228.75 222.7V225.8M230.25 9.6V40.8M230.25 69.6V222.7M231.75 40.8V69.6M234.75 0.0V9.6M234.75 69.6V222.7M234.75 225.8V240.0M237.75 0.0V9.6M237.75 9.6V40.8M237.75 40.8V69.6M239.25 0.0V9.6" stroke="#64826a" stroke-opacity="0.32" stroke-width="1.50" fill="none"/>
<path d="M9.6 2.25H40.8M40.8 2.25H69.6M9.6 3.75H40.8M40.8 3.75H69.6M0.0 6.75H9.6M40.8 11.25H69.6M69.6 17.25H222.7M225.8 17.25H240.0M40.8 20.25H69.6M69.6 20.25H222.7M225.8 20.25H240.0M225.8 21.75H240.0M69.6 23.25H222.7M225.8 23.25H240.0M0.0 27.75H9.6M9.6 27.75H40.8M40.8 27.75H69.6M225.8 27.75H240.0M0.0 30.75H9.6M0.0 32.25H9.6M222.7 32.25H225.8M0.0 33.75H9.6M9.6 33.75H40.8M40.8 33.75H69.6M69.6 33.75H222.7M9.6 35.25H40.8M69.6 35.25H222.7M9.6 36.75H40.8M69.6 41.25H222.7M69.6 45.75H222.7M222.7 45.75H225.8M9.6 47.25H40.8M69.6 51.75H222.7M0.0 54.75H9.6M0.0 56.25H9.6M69.6 56.25H222.7M0.0 57.75H9.6M69.6 59.25H222.7M222.7 59.25H225.8M9.6 62.25H40.8M225.8 62.25H240.0M222.7 63.75H225.8M0.0 68.25H9.6M0.0 69.75H9.6M0.0 71.25H9.6M40.8 71.25H69.6M222.7 74.25H225.8M40.8 75.75H69.6M225.8 75.75H240.0M9.6 77.25H40.8M40.8 77.25H69.6M69.6 77.25H222.7M0.0 78.75H9.6M69.6 78.75H222.7M40.8 80.25H69.6M222.7 80.25H225.8M0.0 81.75H9.6M9.6 81.75H40.8M222.7 81.75H225.8M225.8 81.75H240.0M9.6 84.75H40.8M40.8 84.75H69.6M225.8 84.75H240.0M222.7 90.75H225.8M0.0 92.25H9.6M40.8 92.25H69.6M225.8 92.25H240.0M40.8 95.25H69.6M225.8 95.25H240.0M40.8 98.25H69.6M225.8 98.25H240.0M40.8 99.75H69.6M69.6 99.75H222.7M225.8 99.75H240.0M69.6 102.75H222.7M222.7 102.75H225.8M225.8 102.75H240.0M0.0 104.25H9.6M9.6 104.25H40.8M69.6 104.25H222.7M222.7 104.25H225.8M69.6 108.75H222.7M225.8 108.75H240.0M0.0 110.25H9.6M40.8 110.25H69.6M69.6 110.25H222.7M9.6 113.25H40.8M0.0 114.75H9.6M69.6 114.75H222.7M222.7 114.75H225.8M9.6 116.25H40.8M222.7 116.25H225.8M225.8 119.25H240.0M9.6 122.25H40.8M69.6 122.25H222.7M222.7 122.25H225.8M40.8 123.75H69.6M0.0 125.25H9.6M225.8 125.25H240.0M0.0 126.75H9.6M69.6 126.75H222.7M9.6 128.25H40.8M40.8 128.25H69.6M69.6 128.25H222.7M222.7 131.25H225.8M0.0 135.75H9.6M9.6 140.25H40.8M9.6 141.75H40.8M40.8 141.75H69.6M9.6 143.25H40.8M9.6 144.75H40.8M69.6 144.75H222.7M222.7 144.75H225.8M9.6 149.25H40.8M40.8 149.25H69.6M69.6 149.25H222.7M0.0 150.75H9.6M9.6 150.75H40.8M222.7 150.75H225.8M40.8 153.75H69.6M69.6 153.75H222.7M0.0 155.25H9.6M222.7 155.25H225.8M0.0 156.75H9.6M40.8 156.75H69.6M69.6 158.25H222.7M0.0 162.75H9.6M40.8 162.75H69.6M222.7 162.75H225.8M225.8 164.25H240.0M9.6 165.75H40.8M40.8 165.75H69.6M9.6 167.25H40.8M40.8 167.25H69.6M69.6 167.25H222.7M0.0 168.75H9.6M40.8 168.75H69.6M0.0 170.25H9.6M69.6 170.25H222.7M0.0 173.25H9.6M222.7 173.25H225.8M0.0 174.75H9.6M40.8 174.75H69.6M225.8 174.75H240.0M225.8 176.25H240.0M40.8 177.75H69.6M40.8 179.25H69.6M69.6 179.25H222.7M40.8 180.75H69.6M9.6 182.25H40.8M40.8 182.25H69.6M222.7 182.25H225.8M9.6 183.75H40.8M0.0 186.75H9.6M69.6 186.75H222.7M222.7 186.75H225.8M9.6 188.25H40.8M69.6 188.25H222.7M225.8 188.25H240.0M0.0 189.75H9.6M40.8 189.75H69.6M0.0 191.25H9.6M9.6 191.25H40.8M40.8 191.25H69.6M225.8 191.25H240.0M0.0 194.25H9.6M9.6 194.25H40.8M9.6 195.75H40.8M0.0 197.25H9.6M9.6 197.25H40.8M40.8 197.25H69.6M69.6 197.25H222.7M9.6 198.75H40.8M40.8 198.75H69.6M69.6 198.75H222.7M40.8 201.75H69.6M69.6 201.75H222.7M9.6 203.25H40.8M40.8 203.25H69.6M222.7 203.25H225.8M40.8 204.75H69.6M69.6 206.25H222.7M222.7 206.25H225.8M40.8 207.75H69.6M40.8 209.25H69.6M9.6 212.25H40.8M69.6 212.25H222.7M225.8 212.25H240.0M69.6 213.75H222.7M40.8 218.25H69.6M222.7 218.25H225.8M225.8 218.25H240.0M9.6 219.75H40.8M222.7 219.75H225.8M9.6 221.25H40.8M222.7 222.75H225.8M0.0 227.25H9.6M40.8 227.25H69.6M69.6 227.25H222.7M225.8 230.25H240.0M222.7 231.75H225.8M9.6 233.25H40.8M40.8 233.25H69.6M222.7 234.75H225.8M222.7 237.75H225.8M69.6 239.25H222.7M225.8 239.25H240.0M2.25 9.6V40.8M2.25 40.8V69.6M3.75 9.6V40.8M3.75 40.8V69.6M6.75 0.0V9.6M11.25 40.8V69.6M17.25 69.6V222.7M17.25 225.8V240.0M20.25 40.8V69.6M20.25 69.6V222.7M20.25 225.8V240.0M21.75 225.8V240.0M23.25 69.6V222.7M23.25 225.8V240.0M27.75 0.0V9.6M27.75 9.6V40.8M27.75 40.8V69.6M27.75 225.8V240.0M30.75 0.0V9.6M32.25 0.0V9.6M32.25 222.7V225.8M33.75 0.0V9.6M33.75 9.6V40.8M33.75 40.8V69.6M33.75 69.6V222.7M35.25 9.6V40.8M35.25 69.6V222.7M36.75 9.6V40.8M41.25 69.6V222.7M45.75 69.6V222.7M45.75 222.7V225.8M47.25 9.6V40.8M51.75 69.6V222.7M54.75 0.0V9.6M56.25 0.0V9.6M56.25 69.6V222.7M57.75 0.0V9.6M59.25 69.6V222.7M59.25 222.7V225.8M62.25 9.6V40.8M62.25 225.8V240.0M63.75 222.7V225.8M68.25 0.0V9.6M69.75 0.0V9.6M71.25 0.0V9.6M71.25 40.8V69.6M74.25 222.7V225.8M75.75 40.8V69.6M75.75 225.8V240.0M77.25 9.6V40.8M77.25 40.8V69.6M77.25 69.6V222.7M78.75 0.0V9.6M78.75 69.6V222.7M80.25 40.8V69.6M80.25 222.7V225.8M81.75 0.0V9.6M81.75 9.6V40.8M81.75 222.7V225.8M81.75 225.8V240.0M84.75 9.6V40.8M84.75 40.8V69.6M84.75 225.8V240.0M90.75 222.7V225.8M92.25 0.0V9.6M92.25 40.8V69.6M92.25 225.8V240.0M95.25 40.8V69.6M95.25 225.8V240.0M98.25 40.8V69.6M98.25 225.8V240.0M99.75 40.8V69.6M99.75 69.6V222.7M99.75 225.8V240.0M102.75 69.6V222.7M102.75 222.7V225.8M102.75 225.8V240.0M104.25 0.0V9.6M104.25 9.6V40.8M104.25 69.6V222.7M104.25 222.7V225.8M108.75 69.6V222.7M108.75 225.8V240.0M110.25 0.0V9.6M110.25 40.8V69.6M110.25 69.6V222.7M113.25 9.6V40.8M114.75 0.0V9.6M114.75 69.6V222.7M114.75 222.7V225.8M116.25 9.6V40.8M116.25 222.7V225.8M119.25 225.8V240.0M122.25 9.6V40.8M122.25 69.6V222.7M122.25 222.7V225.8M123.75 40.8V69.6M125.25 0.0V9.6M125.25 225.8V240.0M126.75 0.0V9.6M126.75 69.6V222.7M128.25 9.6V40.8M128.25 40.8V69.6M128.25 69.6V222.7M131.25 222.7V225.8M135.75 0.0V9.6M140.25 9.6V40.8M141.75 9.6V40.8M141.75 40.8V69.6M143.25 9.6V40.8M144.75 9.6V40.8M144.75 69.6V222.7M144.75 222.7V225.8M149.25 9.6V40.8M149.25 40.8V69.6M149.25 69.6V222.7M150.75 0.0V9.6M150.75 9.6V40.8M150.75 222.7V225.8M153.75 40.8V69.6M153.75 69.6V222.7M155.25 0.0V9.6M155.25 222.7V225.8M156.75 0.0V9.6M156.75 40.8V69.6M158.25 69.6V222.7M162.75 0.0V9.6M162.75 40.8V69.6M162.75 222.7V225.8M164.25 225.8V240.0M165.75 9.6V40.8M165.75 40.8V69.6M167.25 9.6V40.8M167.25 40.8V69.6M167.25 69.6V222.7M168.75 0.0V9.6M168.75 40.8V69.6M170.25 0.0V9.6M170.25 69.6V222.7M173.25 0.0V9.6M173.25 222.7V225.8M174.75 0.0V9.6M174.75 40.8V69.6M174.75 225.8V240.0M176.25 225.8V240.0M177.75 40.8V69.6M179.25 40.8V69.6M179.25 69.6V222.7M180.75 40.8V69.6M182.25 9.6V40.8M182.25 40.8V69.6M182.25 222.7V225.8M183.75 9.6V40.8M186.75 0.0V9.6M186.75 69.6V222.7M186.75 222.7V225.8M188.25 9.6V40.8M188.25 69.6V222.7M188.25 225.8V240.0M189.75 0.0V9.6M189.75 40.8V69.6M191.25 0.0V9.6M191.25 9.6V40.8M191.25 40.8V69.6M191.25 225.8V240.0M194.25 0.0V9.6M194.25 9.6V40.8M195.75 9.6V40.8M197.25 0.0V9.6M197.25 9.6V40.8M197.25 40.8V69.6M197.25 69.6V222.7M198.75 9.6V40.8M198.75 40.8V69.6M198.75 69.6V222.7M201.75 40.8V69.6M201.75 69.6V222.7M203.25 9.6V40.8M203.25 40.8V69.6M203.25 222.7V225.8M204.75 40.8V69.6M206.25 69.6V222.7M206.25 222.7V225.8M207.75 40.8V69.6M209.25 40.8V69.6M212.25 9.6V40.8M212.25 69.6V222.7M212.25 225.8V240.0M213.75 69.6V222.7M218.25 40.8V69.6M218.25 222.7V225.8M218.25 225.8V240.0M219.75 9.6V40.8M219.75 222.7V225.8M221.25 9.6V40.8M222.75 222.7V225.8M227.25 0.0V9.6M227.25 40.8V69.6M227.25 69.6V222.7M230.25 225.8V240.0M231.75 222.7V225.8M233.25 9.6V40.8M233.25 40.8V69.6M234.75 222.7V225.8M237.75 222.7V225.8M239.25 69.6V222.7M239.25 225.8V240.0" stroke="#dcb87a" stroke-opacity="0.30" stroke-width="1.50" fill="none"/>
<path d="M69.6 0.75H222.7M225.8 0.75H240.0M69.6 2.25H222.7M40.8 18.75H69.6M69.6 18.75H222.7M9.6 20.25H40.8M222.7 20.25H225.8M69.6 21.75H222.7M69.6 47.25H222.7M222.7 47.25H225.8M225.8 47.25H240.0M225.8 57.75H240.0M222.7 62.25H225.8M9.6 75.75H40.8M0.0 77.25H9.6M9.6 78.75H40.8M40.8 78.75H69.6M0.0 80.25H9.6M0.0 84.75H9.6M40.8 87.75H69.6M222.7 92.25H225.8M0.0 95.25H9.6M0.0 98.25H9.6M225.8 104.25H240.0M0.0 113.25H9.6M9.6 114.75H40.8M225.8 114.75H240.0M225.8 116.25H240.0M40.8 119.25H69.6M222.7 119.25H225.8M0.0 122.25H9.6M0.0 123.75H9.6M9.6 123.75H40.8M0.0 131.25H9.6M40.8 140.25H69.6M0.0 147.75H9.6M222.7 149.25H225.8M225.8 149.25H240.0M222.7 156.75H225.8M0.0 158.25H9.6M222.7 158.25H225.8M9.6 162.75H40.8M225.8 173.25H240.0M222.7 174.75H225.8M40.8 176.25H69.6M222.7 176.25H225.8M9.6 179.25H40.8M222.7 179.25H225.8M225.8 179.25H240.0M9.6 180.75H40.8M0.0 188.25H9.6M0.0 195.75H9.6M222.7 198.75H225.8M40.8 206.25H69.6M222.7 227.25H225.8M222.7 236.25H225.8M222.7 239.25H225.8M0.75 69.6V222.7M0.75 225.8V240.0M2.25 69.6V222.7M18.75 40.8V69.6M18.75 69.6V222.7M20.25 9.6V40.8M20.25 222.7V225.8M21.75 69.6V222.7M47.25 69.6V222.7M47.25 222.7V225.8M47.25 225.8V240.0M57.75 225.8V240.0M62.25 222.7V225.8M75.75 9.6V40.8M77.25 0.0V9.6M78.75 9.6V40.8M78.75 40.8V69.6M80.25 0.0V9.6M84.75 0.0V9.6M87.75 40.8V69.6M92.25 222.7V225.8M95.25 0.0V9.6M98.25 0.0V9.6M104.25 225.8V240.0M113.25 0.0V9.6M114.75 9.6V40.8M114.75 225.8V240.0M116.25 225.8V240.0M119.25 40.8V69.6M119.25 222.7V225.8M122.25 0.0V9.6M123.75 0.0V9.6M123.75 9.6V40.8M131.25 0.0V9.6M140.25 40.8V69.6M147.75 0.0V9.6M149.25 222.7V225.8M149.25 225.8V240.0M156.75 222.7V225.8M158.25 0.0V9.6M158.25 222.7V225.8M162.75 9.6V40.8M173.25 225.8V240.0M174.75 222.7V225.8M176.25 40.8V69.6M176.25 222.7V225.8M179.25 9.6V40.8M179.25 222.7V225.8M179.25 225.8V240.0M180.75 9.6V40.8M188.25 0.0V9.6M195.75 0.0V9.6M198.75 222.7V225.8M206.25 40.8V69.6M227.25 222.7V225.8M236.25 222.7V225.8M239.25 222.7V225.8" stroke="#e6c486" stroke-opacity="0.45" stroke-width="1.50" fill="none"/>
<path d="M9.6 0.75H40.8M69.6 50.25H222.7M222.7 95.25H225.8M225.8 110.25H240.0M0.0 128.25H9.6M0.0 149.25H9.6M40.8 164.25H69.6M222.7 197.25H225.8M0.75 9.6V40.8M50.25 69.6V222.7M95.25 222.7V225.8M110.25 225.8V240.0M128.25 0.0V9.6M149.25 0.0V9.6M164.25 40.8V69.6M197.25 222.7V225.8" stroke="#f0d296" stroke-opacity="0.60" stroke-width="1.50" fill="none"/>
</g>
<line x1="0" y1="0" x2="240" y2="240" stroke="#f2dfae" stroke-opacity="0.6" stroke-width="1.2"/>
</g>
<rect x="0" y="0" width="240" height="240" fill="none" stroke="#1a1a14" stroke-width="1.8"/>
<line x1="0" y1="119.0" x2="5" y2="119.0" stroke="#111" stroke-width="1.6"/>
<line x1="120.0" y1="240" x2="120.0" y2="235" stroke="#111" stroke-width="1.6"/>
</g>
<text transform="translate(224.8 730.5) scale(1.025 1)" font-size="28.2" text-anchor="middle">S1</text>
<text transform="translate(113.4 1018.8) scale(1.025 1)" font-size="28.2" text-anchor="middle">1</text>
<text transform="translate(231.4 1018.8) scale(1.025 1)" font-size="28.2" text-anchor="middle">80</text>
<text transform="translate(347.4 1018.8) scale(1.025 1)" font-size="28.2" text-anchor="middle">160</text>
<text transform="translate(232.4 1051.5) scale(1.025 1)" font-size="28.2" text-anchor="middle">odors</text>
<text transform="translate(552 730.5) scale(1.025 1)" font-size="28.2" text-anchor="middle">S2</text>
<text transform="translate(433 1018.8) scale(1.025 1)" font-size="28.2" text-anchor="middle">1</text>
<text transform="translate(551 1018.8) scale(1.025 1)" font-size="28.2" text-anchor="middle">80</text>
<text transform="translate(667 1018.8) scale(1.025 1)" font-size="28.2" text-anchor="middle">160</text>
<text transform="translate(552 1051.5) scale(1.025 1)" font-size="28.2" text-anchor="middle">odors</text>
<text transform="translate(871.4 730.5) scale(1.025 1)" font-size="28.2" text-anchor="middle">S3</text>
<text transform="translate(752.4 1018.8) scale(1.025 1)" font-size="28.2" text-anchor="middle">1</text>
<text transform="translate(870.4 1018.8) scale(1.025 1)" font-size="28.2" text-anchor="middle">80</text>
<text transform="translate(986.4 1018.8) scale(1.025 1)" font-size="28.2" text-anchor="middle">160</text>
<text transform="translate(871.4 1051.5) scale(1.025 1)" font-size="28.2" text-anchor="middle">odors</text>
<text transform="translate(104 750.5) scale(1.025 1)" font-size="28.2" text-anchor="end">1</text>
<text transform="translate(104 872.5) scale(1.025 1)" font-size="28.2" text-anchor="end">80</text>
<text transform="translate(104 991.5) scale(1.025 1)" font-size="28.2" text-anchor="end">160</text>
<text transform="translate(46.4 870) rotate(-90) scale(1.025 1)" font-size="28.2" text-anchor="middle">odors</text>
<defs><linearGradient id="cb" x1="0" y1="1" x2="0" y2="0"><stop offset="0.0" stop-color="rgb(25,105,112)"/><stop offset="0.25" stop-color="rgb(50,115,115)"/><stop offset="0.4" stop-color="rgb(110,125,105)"/><stop offset="0.5" stop-color="rgb(150,140,100)"/><stop offset="0.68" stop-color="rgb(215,170,110)"/><stop offset="0.85" stop-color="rgb(240,195,135)"/><stop offset="1.0" stop-color="rgb(248,220,172)"/></linearGradient></defs>
<rect x="1039" y="767" width="11.2" height="185.5" fill="url(#cb)"/>
<text transform="translate(1050 750) rotate(-90) scale(1.025 1)" font-size="28.2" text-anchor="middle">1</text>
<text transform="translate(1050 973) rotate(-90) scale(1.025 1)" font-size="28.2" text-anchor="middle">-1</text>
<text transform="translate(1083.7 862.5) rotate(-90) scale(1.025 1)" font-size="28.2" text-anchor="middle">Perceptual Similarity</text>
<rect x="1401.9" y="811.3" width="49.3" height="200.2" fill="#cbcabf" stroke="#5a5a54" stroke-width="1.6"/>
<line x1="1354" y1="985.3" x2="1504" y2="985.3" stroke="#8c8c8c" stroke-opacity="0.74" stroke-width="5"/>
<rect x="1401.9" y="811.3" width="49.3" height="200.2" fill="none" stroke="#5a5a54" stroke-width="1.6"/>
<line x1="1426.5" y1="756.4" x2="1426.5" y2="866.3" stroke="#111" stroke-width="2.2"/>
<circle cx="1426.5" cy="708.3" r="5.3" fill="#cd8f5f"/>
<circle cx="1426.5" cy="855.4" r="5.3" fill="#cd8f5f"/>
<circle cx="1426.5" cy="877.1" r="5.3" fill="#cd8f5f"/>
<path d="M1356.2 713V1011.5H1500.6" fill="none" stroke="#1a1a1a" stroke-width="2.1"/>
<line x1="1356.2" y1="713" x2="1362.2" y2="713" stroke="#1a1a1a" stroke-width="1.8"/>
<line x1="1356.2" y1="861.4" x2="1360.7" y2="861.4" stroke="#1a1a1a" stroke-width="1.8"/>
<text transform="translate(1346.6 721.2) scale(1.025 1)" font-size="28.2" text-anchor="end">0.25</text>
<text transform="translate(1341.5 869.8) scale(1.025 1)" font-size="28.2" text-anchor="end">0.125</text>
<text transform="translate(1339.6 1015.6) scale(1.025 1)" font-size="28.2" text-anchor="end">0</text>
<text transform="translate(1426.4 687) scale(1.025 1)" font-size="21.5" text-anchor="middle" font-weight="bold">***</text>
<text transform="translate(1212.2 865.4) rotate(-90) scale(1.025 1)" font-size="28.2" text-anchor="middle">perceptual RSM</text>
<text transform="translate(1247 861) rotate(-90) scale(1.025 1)" font-size="28.2" text-anchor="middle">generalizability (r)</text>
</svg>
</body></html>
